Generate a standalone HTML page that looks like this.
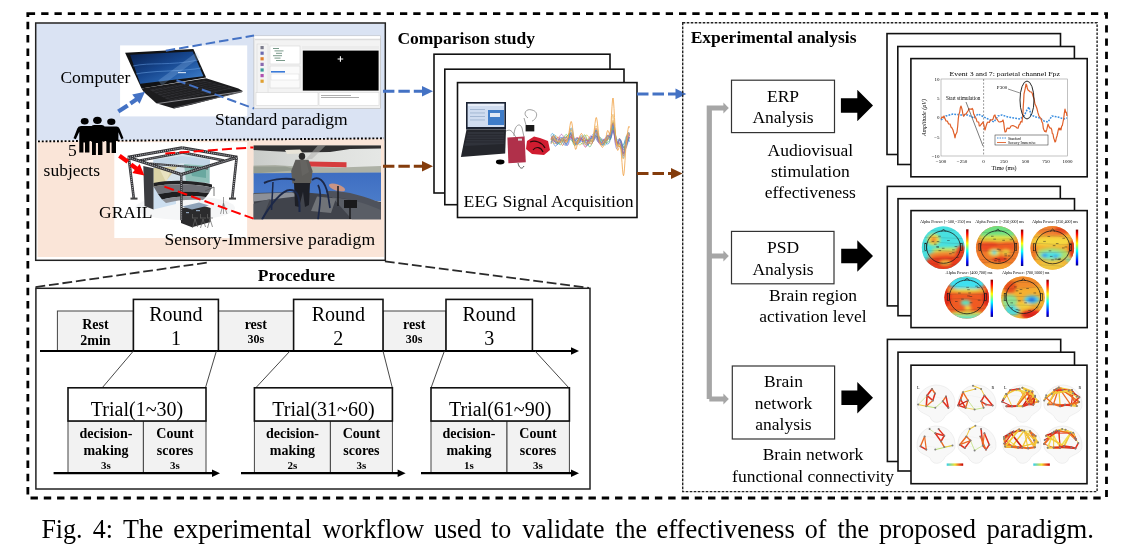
<!DOCTYPE html>
<html><head><meta charset="utf-8">
<style>
html,body{margin:0;padding:0;background:#fff;width:1132px;height:550px;overflow:hidden}
svg{position:absolute;left:0;top:0;will-change:transform}
svg.capsvg{will-change:auto}
text{font-family:"Liberation Serif",serif;fill:#000}
.b{font-weight:bold}
</style></head><body>
<svg width="1132" height="550" viewBox="0 0 1132 550">
<!-- ===== TOP LEFT BOX ===== -->
<rect x="36" y="23.5" width="349" height="117" fill="#DAE3F3"/>
<polygon points="37.6,141.5 384,138.5 384,257 37.6,257" fill="#FAE5D8"/>
<rect x="35.7" y="23" width="349.6" height="237.3" fill="none" stroke="#222" stroke-width="1.5"/>
<rect x="120.1" y="45.4" width="127.1" height="71" fill="#fff"/>
<polygon points="141.5,88.4 143.6,91.8 156.3,103.2 173.8,108.6 191.3,104.8 243.1,91.3 238.4,88.4 206.1,78.3" fill="#1c1c1e"/>
<polygon points="149.6,89.8 204.0,80.6 233.0,88.6 171.0,101.5" fill="#2e2e32"/>
<line x1="153.2" y1="91.8" x2="208.8" y2="81.9" stroke="#1c1c1e" stroke-width="0.8"/>
<line x1="156.7" y1="93.7" x2="213.7" y2="83.3" stroke="#1c1c1e" stroke-width="0.8"/>
<line x1="160.3" y1="95.7" x2="218.5" y2="84.6" stroke="#1c1c1e" stroke-width="0.8"/>
<line x1="163.9" y1="97.6" x2="223.3" y2="85.9" stroke="#1c1c1e" stroke-width="0.8"/>
<line x1="167.4" y1="99.5" x2="228.2" y2="87.3" stroke="#1c1c1e" stroke-width="0.8"/>
<line x1="153.5" y1="89.1" x2="175.4" y2="100.6" stroke="#1c1c1e" stroke-width="0.7"/>
<line x1="157.4" y1="88.5" x2="179.9" y2="99.7" stroke="#1c1c1e" stroke-width="0.7"/>
<line x1="161.3" y1="87.8" x2="184.3" y2="98.7" stroke="#1c1c1e" stroke-width="0.7"/>
<line x1="165.1" y1="87.2" x2="188.7" y2="97.8" stroke="#1c1c1e" stroke-width="0.7"/>
<line x1="169.0" y1="86.5" x2="193.1" y2="96.9" stroke="#1c1c1e" stroke-width="0.7"/>
<line x1="172.9" y1="85.9" x2="197.6" y2="96.0" stroke="#1c1c1e" stroke-width="0.7"/>
<line x1="176.8" y1="85.2" x2="202.0" y2="95.0" stroke="#1c1c1e" stroke-width="0.7"/>
<line x1="180.7" y1="84.5" x2="206.4" y2="94.1" stroke="#1c1c1e" stroke-width="0.7"/>
<line x1="184.6" y1="83.9" x2="210.9" y2="93.2" stroke="#1c1c1e" stroke-width="0.7"/>
<line x1="188.5" y1="83.2" x2="215.3" y2="92.3" stroke="#1c1c1e" stroke-width="0.7"/>
<line x1="192.3" y1="82.6" x2="219.7" y2="91.4" stroke="#1c1c1e" stroke-width="0.7"/>
<line x1="196.2" y1="81.9" x2="224.1" y2="90.4" stroke="#1c1c1e" stroke-width="0.7"/>
<line x1="200.1" y1="81.3" x2="228.6" y2="89.5" stroke="#1c1c1e" stroke-width="0.7"/>
<line x1="157" y1="103.6" x2="241.5" y2="91.6" stroke="#9a9a9e" stroke-width="0.9"/>
<line x1="174" y1="108" x2="242" y2="91.8" stroke="#5a5a5e" stroke-width="1"/>
<polygon points="125.1,52.7 193.4,49.1 206.1,77.6 141.5,88.4" fill="#111214"/>
<defs><linearGradient id="lscr" x1="0" y1="0" x2="1" y2="1"><stop offset="0" stop-color="#081e4c"/><stop offset="0.45" stop-color="#16468e"/><stop offset="0.75" stop-color="#2c68b4"/><stop offset="1" stop-color="#4888d0"/></linearGradient></defs>
<polygon points="130.1,54.8 192.7,51.4 203.4,76.3 140.2,83.7" fill="url(#lscr)"/>
<path d="M133,66 C150,62 170,66 198,60" stroke="#5a90d6" stroke-width="1" fill="none" opacity="0.6"/>
<path d="M136,74 C155,70 180,72 201,68" stroke="#6aa0e0" stroke-width="1.2" fill="none" opacity="0.55"/>
<path d="M160,83 L198,55" stroke="#9cc4ef" stroke-width="6" fill="none" opacity="0.25"/>
<rect x="178" y="72" width="8" height="1.2" fill="#c8daf0"/>
<rect x="253.9" y="35.9" width="126.7" height="72.6" fill="#f3f3f3" stroke="#b8b8b8" stroke-width="0.6"/>
<rect x="254.2" y="36.2" width="126" height="2" fill="#ffffff"/>
<rect x="255" y="39" width="125" height="1.2" fill="#dcdcdc"/>
<rect x="260.5" y="46.0" width="3.2" height="3.2" fill="#7a7a8a"/>
<rect x="260.5" y="51.6" width="3.2" height="3.2" fill="#6a6ab0"/>
<rect x="260.5" y="57.2" width="3.2" height="3.2" fill="#e08030"/>
<rect x="260.5" y="62.8" width="3.2" height="3.2" fill="#8a6ab0"/>
<rect x="260.5" y="68.4" width="3.2" height="3.2" fill="#3a9a9a"/>
<rect x="260.5" y="74.0" width="3.2" height="3.2" fill="#b050b0"/>
<rect x="260.5" y="79.6" width="3.2" height="3.2" fill="#e0a030"/>
<rect x="257" y="44" width="11" height="58" fill="none" stroke="#d4d4d4" stroke-width="0.5"/>
<rect x="270" y="46" width="30" height="18" fill="#fff" stroke="#cfcfcf" stroke-width="0.5"/>
<rect x="273.0" y="48.0" width="6" height="1" fill="#7a9a8a"/>
<rect x="274.5" y="50.4" width="9" height="1" fill="#7a9a8a"/>
<rect x="276.0" y="52.8" width="6" height="1" fill="#7a9a8a"/>
<rect x="273.0" y="55.2" width="9" height="1" fill="#7a9a8a"/>
<rect x="274.5" y="57.6" width="6" height="1" fill="#7a9a8a"/>
<rect x="276.0" y="60.0" width="9" height="1" fill="#7a9a8a"/>
<rect x="270" y="66" width="30" height="22" fill="#fafafa" stroke="#cfcfcf" stroke-width="0.5"/>
<rect x="271" y="71" width="14" height="1.6" fill="#3a7ad8"/>
<rect x="271" y="74" width="28" height="6" fill="#fff" stroke="#d0d0d0" stroke-width="0.4"/>
<rect x="302.8" y="50.6" width="75.8" height="40" fill="#000"/>
<rect x="302" y="46" width="77" height="3" fill="#ececec"/>
<path d="M340.4,56.2 V61.8 M337.6,59 H343.2" stroke="#fff" stroke-width="1.1"/>
<rect x="256" y="92.5" width="62" height="13" fill="#fff" stroke="#cfcfcf" stroke-width="0.5"/>
<rect x="319" y="92.5" width="60" height="13" fill="#fff" stroke="#cfcfcf" stroke-width="0.5"/>
<rect x="321" y="95" width="30" height="0.8" fill="#9a9a9a"/><rect x="321" y="97" width="38" height="0.8" fill="#9a9a9a"/>
<rect x="114.3" y="142.2" width="132.8" height="95.8" fill="#fff"/>
<ellipse cx="185" cy="208" rx="50" ry="12" fill="#f5f6f7"/>
<polygon points="153.4,157.0 182.0,153.0 210.0,158.0 210.0,184.0 182.0,181.0 153.4,187.0" fill="#d4e2ea"/>
<polygon points="153.4,160.0 182.0,156.0 210.0,160.0 210.0,167.0 182.0,163.0 153.4,168.0" fill="#c2d6e6"/>
<polygon points="153.4,168.0 178.0,166.0 162.0,186.0 153.4,187.0" fill="#d9d2a6"/>
<polygon points="160.0,170.0 172.0,168.0 166.0,182.0" fill="#e8e2c0"/>
<polygon points="184.0,164.0 209.5,166.0 209.5,183.0 186.0,181.0" fill="#8fbfb8"/>
<polygon points="190.0,168.0 206.0,170.0 206.0,178.0 192.0,176.0" fill="#6aa8a0"/>
<polygon points="153.4,187.0 176.0,186.0 176.0,204.0 153.4,209.6" fill="#cddff0"/>
<path d="M153.5,183 C170,179.5 195,180.5 212,184.5 L212,187.5 C195,184 170,183 153.5,186.5 Z" fill="#222224"/>
<path d="M153.5,186.5 C170,183 195,184 212,187.5 L209,193 C195,191 175,190.5 158,194 Z" fill="#6e7076"/>
<path d="M158,194 C175,190.5 195,191 209,193 L206,197 C192,195.5 176,196 162,199.5 Z" fill="#1e1e20"/>
<path d="M162,199.5 C176,196 192,195.5 206,197 L203,200 C190,199 176,200 166,203 Z" fill="#8a8c92"/>
<path d="M205,191 L214,187 L214,196" stroke="#555" stroke-width="0.8" fill="none"/>
<polygon points="143.3,165.9 153.5,168.2 153.5,209.6 144.5,206.0" fill="#3b3c40"/>
<polygon points="181.0,208.5 199.0,204.5 210.6,208.0 210.6,222.0 192.0,227.2 181.0,223.0" fill="#2b2b2d"/>
<polygon points="182.0,206.5 199.0,202.5 209.0,205.5 192.0,209.5" fill="#8ea2b8"/>
<rect x="186" y="212" width="3" height="1.2" fill="#8ea2b8"/><rect x="196" y="210" width="4" height="1.2" fill="#8ea2b8"/>
<path d="M195,219 l-2.5,9 M195,219 l2.5,8 M192,218 h6 M192.5,214 v4" stroke="#666" stroke-width="0.7" fill="none"/>
<path d="M203,219 l-2.5,9 M203,219 l2.5,8 M200,218 h6 M200.5,214 v4" stroke="#666" stroke-width="0.7" fill="none"/>
<path d="M210,219 l-2.5,9 M210,219 l2.5,8 M207,218 h6 M207.5,214 v4" stroke="#666" stroke-width="0.7" fill="none"/>
<path d="M223.5,197 v9 M223.5,203 l-3,11 M223.5,203 l3.5,11 M223.5,203 v11" stroke="#777" stroke-width="0.7" fill="none"/>
<line x1="127.8" y1="157.3" x2="182.2" y2="147.8" stroke="#333336" stroke-width="3.0"/><line x1="127.8" y1="157.3" x2="182.2" y2="147.8" stroke="#b4b6bc" stroke-width="1.20" stroke-dasharray="1 1.1"/>
<line x1="182.2" y1="147.8" x2="237.4" y2="157.3" stroke="#333336" stroke-width="3.0"/><line x1="182.2" y1="147.8" x2="237.4" y2="157.3" stroke="#b4b6bc" stroke-width="1.20" stroke-dasharray="1 1.1"/>
<line x1="140" y1="160.5" x2="182.5" y2="152.5" stroke="#333336" stroke-width="2.4"/><line x1="140" y1="160.5" x2="182.5" y2="152.5" stroke="#b4b6bc" stroke-width="0.96" stroke-dasharray="1 1.1"/>
<line x1="182.5" y1="152.5" x2="224" y2="160.5" stroke="#333336" stroke-width="2.4"/><line x1="182.5" y1="152.5" x2="224" y2="160.5" stroke="#b4b6bc" stroke-width="0.96" stroke-dasharray="1 1.1"/>
<line x1="150" y1="163.5" x2="208" y2="168.5" stroke="#333336" stroke-width="2.2"/><line x1="150" y1="163.5" x2="208" y2="168.5" stroke="#b4b6bc" stroke-width="0.88" stroke-dasharray="1 1.1"/>
<line x1="127.8" y1="157.3" x2="181.3" y2="174.5" stroke="#333336" stroke-width="3.0"/><line x1="127.8" y1="157.3" x2="181.3" y2="174.5" stroke="#b4b6bc" stroke-width="1.20" stroke-dasharray="1 1.1"/>
<line x1="181.3" y1="174.5" x2="237.4" y2="157.3" stroke="#333336" stroke-width="3.0"/><line x1="181.3" y1="174.5" x2="237.4" y2="157.3" stroke="#b4b6bc" stroke-width="1.20" stroke-dasharray="1 1.1"/>
<line x1="128.8" y1="158" x2="133.8" y2="198.7" stroke="#333336" stroke-width="2.6"/><line x1="128.8" y1="158" x2="133.8" y2="198.7" stroke="#b4b6bc" stroke-width="1.04" stroke-dasharray="1 1.1"/>
<line x1="236.6" y1="158" x2="232.2" y2="198.7" stroke="#333336" stroke-width="2.6"/><line x1="236.6" y1="158" x2="232.2" y2="198.7" stroke="#b4b6bc" stroke-width="1.04" stroke-dasharray="1 1.1"/>
<line x1="181.3" y1="174.5" x2="181.5" y2="220.3" stroke="#333336" stroke-width="2.4"/><line x1="181.3" y1="174.5" x2="181.5" y2="220.3" stroke="#b4b6bc" stroke-width="0.96" stroke-dasharray="1 1.1"/>
<rect x="130.5" y="197.6" width="7" height="2" fill="#444"/><rect x="229" y="197.6" width="7" height="2" fill="#444"/>
<defs><clipPath id="vrc"><rect x="253.4" y="145.3" width="127.6" height="74.1"/></clipPath><linearGradient id="vrsky" x1="0" y1="0" x2="1" y2="0"><stop offset="0" stop-color="#c9ccc9"/><stop offset="0.5" stop-color="#dddfdc"/><stop offset="1" stop-color="#e5e7e5"/></linearGradient><linearGradient id="vrsea" x1="0" y1="0" x2="0" y2="1"><stop offset="0" stop-color="#3e6ec2"/><stop offset="1" stop-color="#4b7cc9"/></linearGradient></defs>
<g clip-path="url(#vrc)">
<rect x="253.4" y="145.3" width="127.6" height="74.1" fill="url(#vrsky)"/>
<polygon points="253.4,145.3 381.0,145.3 381.0,148.5 350.0,149.0 330.0,152.0 300.0,152.5 270.0,151.0 253.4,150.0" fill="#303031"/>
<polygon points="285.0,150.0 300.0,149.5 303.0,153.5 287.0,154.0" fill="#e8e4d8"/>
<polygon points="318.0,145.3 326.0,145.3 312.0,159.0 306.0,159.0" fill="#b0b0ae" opacity="0.5"/>
<polygon points="253.4,165.5 275.0,165.0 300.0,166.8 340.0,167.5 381.0,166.0 381.0,172.8 253.4,173.5" fill="#adb1a6"/>
<polygon points="253.4,166.5 285.0,166.5 300.0,170.0 253.4,173.5" fill="#959c90"/>
<polygon points="253.4,173.2 381.0,172.6 381.0,201.5 330.0,196.0 253.4,194.5" fill="url(#vrsea)"/>
<polygon points="253.4,193.0 300.0,192.0 340.0,195.5 381.0,202.0 381.0,219.4 253.4,219.4" fill="#40434b"/>
<polygon points="253.4,193.8 292.0,192.6 300.0,196.0 253.4,201.5" fill="#8c9098"/>
<polygon points="253.4,204.0 270.0,199.0 262.0,219.4 253.4,219.4" fill="#50545c"/>
<polygon points="332.0,197.0 381.0,204.5 381.0,219.4 352.0,219.4" fill="#5a5e66"/>
<polygon points="317.0,196.5 336.0,198.5 331.0,213.0 311.0,211.0" fill="#707378"/>
<ellipse cx="337" cy="187.5" rx="8.5" ry="3.2" transform="rotate(18 337 187.5)" fill="#c99484"/>
<path d="M326,191 C345,190 365,196 381,203 L381,210 C365,203 345,197 328,197 Z" fill="#4e525c"/>
<polygon points="308.0,161.4 346.5,162.2 346.5,167.2 308.0,166.4" fill="#d63c3e"/>
<ellipse cx="302" cy="156.3" rx="3.2" ry="3.6" fill="#2a2a2a"/>
<polygon points="295.5,159.8 308.5,159.8 312.6,171.0 311.0,183.5 292.5,183.5 291.2,171.0" fill="#5e5d5a"/>
<polygon points="300.0,160.0 306.0,160.0 309.0,172.0 302.0,176.0" fill="#6a6966" opacity="0.6"/>
<polygon points="294.0,183.0 310.0,183.0 309.0,205.0 305.0,207.0 303.0,192.0 299.0,207.0 295.0,206.0" fill="#1d1f26"/>
<path d="M264,183 C275,178 290,178 295,180 M299.5,212 C300,195 297,190 290,190 C282,190 270,205 262,219.4" stroke="#1c2848" stroke-width="2" fill="none"/>
<path d="M312,180 C318,175 325,180 328,195 L330,208 M318,185 C322,192 320,205 318,219.4" stroke="#1c2848" stroke-width="1.7" fill="none"/>
<path d="M273,182 L271.5,210" stroke="#1c2848" stroke-width="1.5"/>
<rect x="344" y="200" width="13" height="8" fill="#1a1a1c"/><path d="M338,186 v20 M350,208 v11" stroke="#1a1a1c" stroke-width="1.5"/>
</g>
<line x1="38" y1="141.4" x2="384" y2="138.3" stroke="#000" stroke-width="1.9" stroke-dasharray="1.9 1.9"/>
<ellipse cx="84.7" cy="121.2" rx="3.9" ry="3.2" fill="#000"/>
<ellipse cx="97.4" cy="120.3" rx="4.3" ry="3.6" fill="#000"/>
<ellipse cx="111.3" cy="121.8" rx="4.1" ry="3.3" fill="#000"/>
<path d="M77.3,128.5 Q78,126 81,126 H92.5 V141 H89.4 V152.5 H85 V142.5 H83.4 V152.5 H79.3 V141 L79.3,131.8 L75.8,139.3 L73.5,138.3 Z" fill="#000"/>
<path d="M91.2,127 Q91.6,125 94,125 H102 Q104.6,125 104.8,127.5 V141 H102.4 V154.9 H98 V143 H95.9 V154.9 H92 V141 H91.2 Z" fill="#000"/>
<path d="M103.6,126.5 H116.5 Q118.6,126.6 119.6,128.8 L123.5,138.3 L121.3,139.3 L118.4,132.3 V141 H116 V153 H111.6 V142.5 H109.8 V153 H106.4 V141 H103.6 Z" fill="#000"/>
<line x1="165.8" y1="50.7" x2="254" y2="35.6" stroke="#4472C4" stroke-width="2" stroke-dasharray="9.5 4"/>
<line x1="176.5" y1="80.3" x2="254" y2="108.5" stroke="#4472C4" stroke-width="2" stroke-dasharray="9.5 4"/>
<line x1="165.3" y1="153.4" x2="253.5" y2="147.4" stroke="#FF0000" stroke-width="2" stroke-dasharray="10 4.2"/>
<line x1="164.4" y1="186.6" x2="253.5" y2="218.6" stroke="#FF0000" stroke-width="2" stroke-dasharray="10 4.2"/>
<line x1="118.3" y1="111.6" x2="127.7" y2="105.4" stroke="#4472C4" stroke-width="4.2"/>
<line x1="130.4" y1="103.4" x2="137" y2="99" stroke="#4472C4" stroke-width="4.2"/>
<polygon points="145.0,91.7 139.6,103.8 132.2,94.6" fill="#4472C4"/>
<line x1="119.4" y1="155.8" x2="127.8" y2="161.8" stroke="#FF0000" stroke-width="4.4"/>
<line x1="131" y1="164.6" x2="137" y2="169" stroke="#FF0000" stroke-width="4.4"/>
<polygon points="144.4,175.5 132.3,173.0 139.7,164.0" fill="#FF0000"/>
<!-- texts -->
<text x="60.4" y="83.4" font-size="17.5">Computer</text>
<text x="68" y="155.5" font-size="17.5">5</text>
<text x="43.6" y="176" font-size="17.5">subjects</text>
<text x="99" y="218" font-size="17.5">GRAIL</text>
<text x="215" y="124.7" font-size="17.5">Standard paradigm</text>
<text x="164.5" y="244.6" font-size="17.5" textLength="210.5">Sensory-Immersive paradigm</text>

<!-- ===== OUTER DASHED ===== -->
<g stroke="#000" stroke-width="2.8" fill="none">
<path d="M26.4,13.6 H35.1 M27.85,12.2 V16.9 M1104.2,13.6 H1108 M1106.5,12.2 V18.8"/>
<line x1="41.2" y1="13.6" x2="1099" y2="13.6" stroke-dasharray="7.3 5.988"/>
<line x1="27.85" y1="21.8" x2="27.85" y2="494.6" stroke-dasharray="7.5 5.794"/>
<line x1="1106.5" y1="25.3" x2="1106.5" y2="497" stroke-dasharray="7.2 6.08"/>
<line x1="30.5" y1="498" x2="1101.2" y2="498" stroke-dasharray="7.4 5.885"/>
</g>

<!-- ===== COMPARISON ===== -->
<text class="b" x="397.4" y="43.5" font-size="17.5">Comparison study</text>
<rect x="434" y="54.2" width="176" height="138.8" fill="#fff" stroke="#111" stroke-width="1.6"/>
<rect x="444.8" y="69.2" width="179.2" height="135.5" fill="#fff" stroke="#111" stroke-width="1.6"/>
<rect x="457.5" y="82.6" width="179.5" height="134.9" fill="#fff" stroke="#111" stroke-width="1.6"/>
<polygon points="466.0,101.9 506.0,101.9 506.0,129.5 466.0,129.5" fill="#1a2232"/>
<rect x="467.6" y="103.6" width="36.8" height="23.4" fill="#cfdcf0"/>
<rect x="468" y="104" width="36" height="2" fill="#e8eef8"/>
<rect x="488" y="110" width="16" height="15" fill="#3e7cc8"/>
<rect x="490" y="113" width="10" height="4" fill="#dfe8f5"/>
<rect x="470" y="109.0" width="15" height="0.9" fill="#9fb3d0"/>
<rect x="470" y="112.5" width="15" height="0.9" fill="#9fb3d0"/>
<rect x="470" y="116.0" width="15" height="0.9" fill="#9fb3d0"/>
<rect x="470" y="119.5" width="15" height="0.9" fill="#9fb3d0"/>
<polygon points="466.5,129.5 506.0,129.5 505.2,153.6 460.9,157.0" fill="#24262c"/>
<polygon points="468.0,132.0 504.0,132.0 503.8,144.0 464.5,146.0" fill="#30333b"/>
<line x1="467.3" y1="134.5" x2="504" y2="134.5" stroke="#22242a" stroke-width="0.6"/>
<line x1="466.6" y1="137.0" x2="504" y2="137.0" stroke="#22242a" stroke-width="0.6"/>
<line x1="465.9" y1="139.5" x2="504" y2="139.5" stroke="#22242a" stroke-width="0.6"/>
<line x1="465.2" y1="142.0" x2="504" y2="142.0" stroke="#22242a" stroke-width="0.6"/>
<ellipse cx="500.2" cy="162" rx="4.3" ry="2.4" fill="#000"/>
<path d="M506,131 C512,128 513,134 516,137 M514,136 C514,125 520,122 522,128 L524,137 M528,118 C522,114 526,108 532,110 C540,112 536,120 532,121 M526,125 L524,118" stroke="#888" stroke-width="0.8" fill="none"/>
<rect x="525.6" y="125" width="8.7" height="6.4" fill="#1a1a1a"/>
<path d="M518,163 C519,168 522,170 524,166" stroke="#333" stroke-width="0.8" fill="none"/>
<polygon points="507.4,137.6 524.6,136.6 525.8,162.2 508.4,163.2" fill="#b0304a"/>
<rect x="518" y="138.6" width="4" height="2" fill="#ddd"/>
<polygon points="527.0,141.0 534.0,136.5 540.0,138.0 548.0,141.0 550.0,150.0 544.0,155.0 532.0,154.0 526.0,149.0" fill="#d01c30"/>
<path d="M530,142 C535,140 542,142 545,148 M533,150 C536,146 541,147 543,152" stroke="#2a0a0a" stroke-width="1.2" fill="none"/>
<polyline points="551.0,135.6 551.5,136.7 552.0,138.1 552.5,139.7 553.0,141.3 553.5,142.9 554.0,144.3 554.5,145.3 555.0,145.9 555.5,146.2 556.0,146.0 556.5,145.4 557.0,144.6 557.5,143.5 558.0,142.3 558.5,141.0 559.0,139.8 559.5,138.7 560.0,137.9 560.5,137.4 561.0,137.2 561.5,137.4 562.0,137.9 562.5,138.6 563.0,139.5 563.5,140.5 564.0,141.5 564.5,142.4 565.0,143.2 565.5,143.7 566.0,143.9 566.5,143.8 567.0,143.3 567.5,142.5 568.0,141.3 568.5,139.8 569.0,138.2 569.5,136.4 570.0,134.8 570.5,133.6 571.0,132.8 571.5,132.7 572.0,133.2 572.5,134.1 573.0,135.5 573.5,137.0 574.0,138.6 574.5,140.2 575.0,141.6 575.5,142.8 576.0,143.7 576.5,144.2 577.0,144.4 577.5,144.4 578.0,144.1 578.5,143.6 579.0,143.0 579.5,142.2 580.0,141.3 580.5,140.6 581.0,140.0 581.5,139.6 582.0,139.5 582.5,139.6 583.0,139.9 583.5,140.3 584.0,140.7 584.5,141.2 585.0,141.6 585.5,142.0 586.0,142.3 586.5,142.5 587.0,142.5 587.5,142.2 588.0,141.8 588.5,141.1 589.0,140.3 589.5,139.4 590.0,138.5 590.5,137.7 591.0,137.1 591.5,136.7 592.0,136.5 592.5,136.5 593.0,136.6 593.5,136.7 594.0,136.9 594.5,137.1 595.0,137.4 595.5,137.8 596.0,138.5 596.5,139.3 597.0,140.3 597.5,141.2 598.0,141.9 598.5,142.2 599.0,142.1 599.5,141.8 600.0,141.3 600.5,140.8 601.0,140.3 601.5,139.9 602.0,139.5 602.5,139.3 603.0,139.2 603.5,139.4 604.0,139.8 604.5,140.5 605.0,141.3 605.5,142.1 606.0,142.9 606.5,143.5 607.0,143.9 607.5,144.0 608.0,143.9 608.5,143.6 609.0,143.0 609.5,142.1 610.0,140.6 610.5,138.6 611.0,136.1 611.5,133.3 612.0,130.5 612.5,128.3 613.0,127.1 613.5,127.2 614.0,128.4 614.5,130.4 615.0,132.9 615.5,135.4 616.0,138.0 616.5,140.4 617.0,142.5 617.5,144.3 618.0,145.4 618.5,146.1 619.0,146.4 619.5,146.4 620.0,146.3 620.5,146.1 621.0,145.9 621.5,145.7 622.0,145.6 622.5,145.5 623.0,145.1 623.5,144.4 624.0,143.4 624.5,142.2 625.0,141.0 625.5,140.1 626.0,139.6 626.5,139.5 627.0,139.6 627.5,139.8 628.0,140.1 628.5,140.5 629.0,141.0 629.5,141.7" fill="none" stroke="#3a78d0" stroke-width="0.7" opacity="0.9"/>
<polyline points="551.0,139.2 551.5,138.9 552.0,138.7 552.5,138.8 553.0,139.1 553.5,139.6 554.0,140.2 554.5,140.9 555.0,141.5 555.5,142.0 556.0,142.4 556.5,142.7 557.0,142.9 557.5,142.9 558.0,142.7 558.5,142.4 559.0,142.1 559.5,141.7 560.0,141.3 560.5,141.0 561.0,140.7 561.5,140.5 562.0,140.4 562.5,140.3 563.0,140.2 563.5,140.0 564.0,139.6 564.5,139.2 565.0,138.6 565.5,137.9 566.0,137.2 566.5,136.5 567.0,135.8 567.5,135.3 568.0,134.8 568.5,134.4 569.0,133.9 569.5,133.5 570.0,133.4 570.5,133.8 571.0,134.8 571.5,136.6 572.0,138.7 572.5,140.9 573.0,142.9 573.5,144.4 574.0,145.2 574.5,145.5 575.0,145.2 575.5,144.4 576.0,143.3 576.5,142.1 577.0,141.1 577.5,140.3 578.0,140.0 578.5,139.9 579.0,139.9 579.5,139.8 580.0,139.6 580.5,139.3 581.0,138.9 581.5,138.4 582.0,137.9 582.5,137.3 583.0,136.6 583.5,135.9 584.0,135.2 584.5,134.9 585.0,135.0 585.5,135.7 586.0,136.8 586.5,138.4 587.0,140.3 587.5,142.2 588.0,143.9 588.5,145.4 589.0,146.3 589.5,146.8 590.0,146.8 590.5,146.4 591.0,145.5 591.5,144.5 592.0,143.2 592.5,141.7 593.0,140.0 593.5,138.0 594.0,135.8 594.5,133.6 595.0,131.6 595.5,130.3 596.0,129.9 596.5,130.6 597.0,132.1 597.5,133.9 598.0,135.7 598.5,137.1 599.0,138.0 599.5,138.5 600.0,138.9 600.5,139.4 601.0,139.8 601.5,140.3 602.0,140.6 602.5,140.8 603.0,140.8 603.5,140.7 604.0,140.7 604.5,140.7 605.0,140.7 605.5,140.5 606.0,140.2 606.5,139.7 607.0,139.1 607.5,138.7 608.0,138.6 608.5,138.9 609.0,139.4 609.5,139.8 610.0,139.6 610.5,138.4 611.0,135.7 611.5,132.0 612.0,127.8 612.5,124.2 613.0,122.3 613.5,122.7 614.0,124.9 614.5,128.2 615.0,131.7 615.5,135.0 616.0,137.8 616.5,140.2 617.0,142.2 617.5,143.5 618.0,144.1 618.5,144.2 619.0,144.1 619.5,144.1 620.0,144.4 620.5,145.3 621.0,146.6 621.5,148.4 622.0,150.4 622.5,152.2 623.0,153.3 623.5,153.2 624.0,151.9 624.5,149.7 625.0,147.2 625.5,144.9 626.0,143.1 626.5,141.8 627.0,140.8 627.5,139.8 628.0,138.6 628.5,137.6 629.0,137.0 629.5,137.1" fill="none" stroke="#50b050" stroke-width="0.7" opacity="0.9"/>
<polyline points="551.0,138.5 551.5,138.0 552.0,137.7 552.5,137.6 553.0,137.9 553.5,138.4 554.0,139.2 554.5,140.2 555.0,141.3 555.5,142.3 556.0,143.3 556.5,143.9 557.0,144.3 557.5,144.3 558.0,144.0 558.5,143.3 559.0,142.4 559.5,141.3 560.0,140.3 560.5,139.4 561.0,138.7 561.5,138.3 562.0,138.2 562.5,138.3 563.0,138.7 563.5,139.2 564.0,139.7 564.5,140.1 565.0,140.4 565.5,140.5 566.0,140.3 566.5,140.0 567.0,139.6 567.5,139.1 568.0,138.6 568.5,138.1 569.0,137.5 569.5,137.1 570.0,136.9 570.5,137.1 571.0,137.6 571.5,138.6 572.0,139.8 572.5,140.9 573.0,141.8 573.5,142.4 574.0,142.5 574.5,142.2 575.0,141.7 575.5,140.8 576.0,139.9 576.5,139.0 577.0,138.4 577.5,138.0 578.0,138.0 578.5,138.3 579.0,138.7 579.5,139.1 580.0,139.4 580.5,139.7 581.0,139.9 581.5,140.0 582.0,140.2 582.5,140.2 583.0,140.3 583.5,140.3 584.0,140.4 584.5,140.6 585.0,141.0 585.5,141.6 586.0,142.4 586.5,143.1 587.0,143.8 587.5,144.2 588.0,144.3 588.5,144.0 589.0,143.3 589.5,142.3 590.0,141.1 590.5,139.8 591.0,138.6 591.5,137.6 592.0,136.9 592.5,136.3 593.0,136.0 593.5,135.8 594.0,135.5 594.5,135.3 595.0,135.1 595.5,135.1 596.0,135.4 596.5,136.1 597.0,137.0 597.5,138.0 598.0,138.9 598.5,139.6 599.0,140.1 599.5,140.5 600.0,141.0 600.5,141.6 601.0,142.4 601.5,143.2 602.0,143.8 602.5,144.2 603.0,144.2 603.5,143.9 604.0,143.4 604.5,142.6 605.0,141.6 605.5,140.4 606.0,139.1 606.5,137.8 607.0,136.6 607.5,135.9 608.0,135.6 608.5,135.9 609.0,136.5 609.5,137.4 610.0,138.0 610.5,138.0 611.0,137.2 611.5,135.7 612.0,133.8 612.5,132.0 613.0,131.1 613.5,131.2 614.0,132.4 614.5,134.2 615.0,136.1 615.5,137.9 616.0,139.6 616.5,141.1 617.0,142.3 617.5,143.2 618.0,143.5 618.5,143.4 619.0,143.1 619.5,142.8 620.0,142.5 620.5,142.5 621.0,142.9 621.5,143.6 622.0,144.6 622.5,145.8 623.0,146.8 623.5,147.3 624.0,147.3 624.5,146.9 625.0,146.2 625.5,145.5 626.0,144.8 626.5,144.1 627.0,143.3 627.5,142.2 628.0,140.7 628.5,139.3 629.0,138.1 629.5,137.4" fill="none" stroke="#9050c0" stroke-width="0.7" opacity="0.9"/>
<polyline points="551.0,141.4 551.5,141.8 552.0,142.2 552.5,142.6 553.0,142.9 553.5,143.1 554.0,143.3 554.5,143.4 555.0,143.4 555.5,143.4 556.0,143.4 556.5,143.3 557.0,143.2 557.5,143.1 558.0,143.0 558.5,142.8 559.0,142.5 559.5,142.2 560.0,141.8 560.5,141.3 561.0,140.8 561.5,140.2 562.0,139.5 562.5,138.9 563.0,138.3 563.5,137.8 564.0,137.4 564.5,137.1 565.0,136.9 565.5,136.9 566.0,137.1 566.5,137.3 567.0,137.7 567.5,138.0 568.0,138.2 568.5,138.3 569.0,138.1 569.5,137.7 570.0,137.3 570.5,136.9 571.0,136.8 571.5,136.9 572.0,137.4 572.5,138.0 573.0,138.7 573.5,139.4 574.0,140.1 574.5,140.7 575.0,141.3 575.5,141.8 576.0,142.2 576.5,142.5 577.0,142.9 577.5,143.4 578.0,143.9 578.5,144.3 579.0,144.7 579.5,144.8 580.0,144.8 580.5,144.6 581.0,144.2 581.5,143.7 582.0,143.0 582.5,142.2 583.0,141.3 583.5,140.2 584.0,139.0 584.5,137.8 585.0,136.7 585.5,135.9 586.0,135.3 586.5,135.1 587.0,135.1 587.5,135.4 588.0,136.0 588.5,136.7 589.0,137.5 589.5,138.4 590.0,139.3 590.5,140.1 591.0,140.9 591.5,141.6 592.0,142.0 592.5,142.1 593.0,141.8 593.5,141.2 594.0,140.1 594.5,138.8 595.0,137.5 595.5,136.4 596.0,135.8 596.5,135.8 597.0,136.4 597.5,137.3 598.0,138.5 598.5,139.7 599.0,140.8 599.5,141.8 600.0,142.8 600.5,143.7 601.0,144.6 601.5,145.2 602.0,145.4 602.5,145.4 603.0,145.0 603.5,144.3 604.0,143.4 604.5,142.5 605.0,141.5 605.5,140.4 606.0,139.2 606.5,138.1 607.0,137.0 607.5,136.1 608.0,135.5 608.5,135.2 609.0,135.2 609.5,135.3 610.0,135.1 610.5,134.6 611.0,133.6 611.5,132.1 612.0,130.5 612.5,129.4 613.0,129.2 613.5,130.1 614.0,131.9 614.5,134.3 615.0,136.7 615.5,138.9 616.0,140.8 616.5,142.4 617.0,143.6 617.5,144.4 618.0,144.8 618.5,144.9 619.0,144.9 619.5,145.1 620.0,145.4 620.5,146.0 621.0,146.9 621.5,148.0 622.0,149.2 622.5,150.1 623.0,150.5 623.5,150.2 624.0,149.0 624.5,147.1 625.0,144.9 625.5,142.6 626.0,140.6 626.5,138.8 627.0,137.3 627.5,136.1 628.0,135.0 628.5,134.5 629.0,134.5 629.5,135.1" fill="none" stroke="#e0c030" stroke-width="0.7" opacity="0.9"/>
<polyline points="551.0,142.3 551.5,140.3 552.0,138.3 552.5,136.7 553.0,135.4 553.5,134.7 554.0,134.5 554.5,134.8 555.0,135.5 555.5,136.6 556.0,137.9 556.5,139.4 557.0,140.7 557.5,141.9 558.0,142.8 558.5,143.3 559.0,143.5 559.5,143.4 560.0,143.1 560.5,142.6 561.0,142.0 561.5,141.5 562.0,141.1 562.5,140.8 563.0,140.6 563.5,140.6 564.0,140.6 564.5,140.7 565.0,140.7 565.5,140.7 566.0,140.5 566.5,140.2 567.0,139.8 567.5,139.1 568.0,138.4 568.5,137.5 569.0,136.5 569.5,135.6 570.0,135.0 570.5,134.7 571.0,135.0 571.5,135.9 572.0,137.2 572.5,138.8 573.0,140.4 573.5,141.8 574.0,143.0 574.5,143.7 575.0,144.0 575.5,143.8 576.0,143.3 576.5,142.5 577.0,141.6 577.5,140.7 578.0,140.0 578.5,139.4 579.0,139.0 579.5,138.7 580.0,138.6 580.5,138.6 581.0,138.8 581.5,139.1 582.0,139.5 582.5,139.9 583.0,140.2 583.5,140.4 584.0,140.5 584.5,140.5 585.0,140.4 585.5,140.4 586.0,140.5 586.5,140.6 587.0,140.7 587.5,140.9 588.0,141.0 588.5,141.1 589.0,141.1 589.5,141.1 590.0,141.0 590.5,141.0 591.0,141.0 591.5,141.0 592.0,140.9 592.5,140.9 593.0,140.7 593.5,140.3 594.0,139.6 594.5,138.7 595.0,137.8 595.5,137.0 596.0,136.5 596.5,136.3 597.0,136.5 597.5,136.7 598.0,136.9 598.5,137.0 599.0,136.9 599.5,136.9 600.0,137.0 600.5,137.5 601.0,138.2 601.5,139.1 602.0,140.3 602.5,141.4 603.0,142.5 603.5,143.5 604.0,144.4 604.5,145.0 605.0,145.3 605.5,145.1 606.0,144.5 606.5,143.3 607.0,141.9 607.5,140.3 608.0,138.8 608.5,137.5 609.0,136.6 609.5,135.8 610.0,135.1 610.5,134.3 611.0,133.2 611.5,131.9 612.0,130.6 612.5,129.8 613.0,130.0 613.5,131.3 614.0,133.4 614.5,135.8 615.0,138.0 615.5,139.8 616.0,141.2 616.5,142.2 617.0,142.9 617.5,143.3 618.0,143.4 618.5,143.3 619.0,143.3 619.5,143.5 620.0,144.1 620.5,144.9 621.0,145.9 621.5,146.9 622.0,147.8 622.5,148.4 623.0,148.2 623.5,147.2 624.0,145.4 624.5,143.0 625.0,140.5 625.5,138.4 626.0,136.8 626.5,136.0 627.0,135.9 627.5,136.2 628.0,136.9 628.5,138.0 629.0,139.4 629.5,141.2" fill="none" stroke="#30b0c0" stroke-width="0.7" opacity="0.9"/>
<polyline points="551.0,139.8 551.5,138.7 552.0,137.7 552.5,136.8 553.0,136.2 553.5,136.0 554.0,136.2 554.5,136.7 555.0,137.6 555.5,138.6 556.0,139.8 556.5,140.9 557.0,141.9 557.5,142.5 558.0,142.7 558.5,142.6 559.0,142.2 559.5,141.5 560.0,140.8 560.5,140.2 561.0,139.8 561.5,139.7 562.0,139.8 562.5,140.1 563.0,140.5 563.5,141.0 564.0,141.3 564.5,141.4 565.0,141.3 565.5,141.0 566.0,140.5 566.5,140.0 567.0,139.4 567.5,139.0 568.0,138.5 568.5,138.1 569.0,137.7 569.5,137.2 570.0,136.9 570.5,136.7 571.0,136.9 571.5,137.5 572.0,138.2 572.5,138.9 573.0,139.4 573.5,139.5 574.0,139.4 574.5,139.2 575.0,138.8 575.5,138.4 576.0,138.0 576.5,137.8 577.0,137.7 577.5,137.8 578.0,138.0 578.5,138.3 579.0,138.4 579.5,138.4 580.0,138.2 580.5,138.1 581.0,138.3 581.5,138.8 582.0,139.8 582.5,141.0 583.0,142.5 583.5,143.9 584.0,145.2 584.5,146.2 585.0,146.9 585.5,147.1 586.0,146.8 586.5,146.1 587.0,144.9 587.5,143.3 588.0,141.6 588.5,139.8 589.0,138.3 589.5,137.1 590.0,136.3 590.5,136.1 591.0,136.2 591.5,136.6 592.0,137.1 592.5,137.5 593.0,137.4 593.5,136.8 594.0,135.5 594.5,133.9 595.0,132.3 595.5,131.1 596.0,130.8 596.5,131.6 597.0,133.5 597.5,135.9 598.0,138.5 598.5,140.8 599.0,142.6 599.5,143.8 600.0,144.6 600.5,144.8 601.0,144.7 601.5,144.1 602.0,143.2 602.5,142.1 603.0,140.9 603.5,139.9 604.0,139.4 604.5,139.3 605.0,139.5 605.5,139.9 606.0,140.3 606.5,140.4 607.0,140.2 607.5,139.7 608.0,139.3 608.5,138.8 609.0,138.3 609.5,137.7 610.0,136.6 610.5,134.8 611.0,132.3 611.5,129.1 612.0,126.1 612.5,123.9 613.0,123.4 613.5,124.8 614.0,127.7 614.5,131.3 615.0,134.7 615.5,137.5 616.0,139.7 616.5,141.2 617.0,142.3 617.5,142.8 618.0,142.9 618.5,142.8 619.0,142.8 619.5,143.1 620.0,144.0 620.5,145.4 621.0,147.2 621.5,149.3 622.0,151.4 622.5,153.2 623.0,154.1 623.5,153.8 624.0,152.4 624.5,150.0 625.0,147.4 625.5,144.9 626.0,143.0 626.5,141.6 627.0,140.5 627.5,139.3 628.0,138.0 628.5,136.9 629.0,136.2 629.5,136.1" fill="none" stroke="#d03070" stroke-width="0.7" opacity="0.9"/>
<polyline points="551.0,137.7 551.5,137.9 552.0,138.4 552.5,139.2 553.0,140.1 553.5,140.9 554.0,141.4 554.5,141.6 555.0,141.3 555.5,140.7 556.0,139.8 556.5,138.8 557.0,138.0 557.5,137.3 558.0,137.1 558.5,137.2 559.0,137.8 559.5,138.8 560.0,140.1 560.5,141.5 561.0,142.9 561.5,144.1 562.0,144.9 562.5,145.3 563.0,145.2 563.5,144.6 564.0,143.6 564.5,142.4 565.0,141.0 565.5,139.6 566.0,138.3 566.5,137.2 567.0,136.4 567.5,135.9 568.0,135.4 568.5,135.0 569.0,134.5 569.5,134.1 570.0,133.7 570.5,133.6 571.0,134.1 571.5,135.2 572.0,136.8 572.5,138.6 573.0,140.4 573.5,142.0 574.0,143.3 574.5,144.2 575.0,144.6 575.5,144.5 576.0,143.9 576.5,143.0 577.0,141.9 577.5,140.7 578.0,139.7 578.5,138.9 579.0,138.1 579.5,137.6 580.0,137.3 580.5,137.2 581.0,137.5 581.5,138.2 582.0,139.0 582.5,139.9 583.0,140.6 583.5,141.0 584.0,141.1 584.5,141.0 585.0,140.7 585.5,140.3 586.0,140.0 586.5,139.9 587.0,139.9 587.5,140.2 588.0,140.6 588.5,141.2 589.0,141.9 589.5,142.7 590.0,143.4 590.5,143.9 591.0,144.2 591.5,144.1 592.0,143.6 592.5,142.5 593.0,140.8 593.5,138.6 594.0,136.0 594.5,133.2 595.0,130.7 595.5,128.9 596.0,128.2 596.5,128.8 597.0,130.5 597.5,132.9 598.0,135.5 598.5,137.9 599.0,139.8 599.5,141.3 600.0,142.4 600.5,143.2 601.0,143.7 601.5,143.9 602.0,143.8 602.5,143.5 603.0,143.0 603.5,142.6 604.0,142.4 604.5,142.3 605.0,142.3 605.5,142.1 606.0,141.7 606.5,141.0 607.0,139.9 607.5,138.6 608.0,137.3 608.5,136.2 609.0,135.2 609.5,134.3 610.0,133.2 610.5,131.7 611.0,129.8 611.5,127.6 612.0,125.7 612.5,124.8 613.0,125.7 613.5,128.3 614.0,132.3 614.5,136.7 615.0,140.5 615.5,143.3 616.0,144.9 616.5,145.4 617.0,145.1 617.5,143.9 618.0,142.2 618.5,140.4 619.0,139.0 619.5,138.4 620.0,139.0 620.5,140.7 621.0,143.4 621.5,146.8 622.0,150.4 622.5,153.5 623.0,155.6 623.5,156.0 624.0,154.6 624.5,151.7 625.0,147.9 625.5,143.9 626.0,140.3 626.5,137.4 627.0,135.1 627.5,133.6 628.0,132.7 628.5,132.8 629.0,133.9 629.5,136.1" fill="none" stroke="#e05a30" stroke-width="0.7" opacity="0.9"/>
<polyline points="551.0,143.7 551.5,142.4 552.0,141.0 552.5,139.6 553.0,138.5 553.5,137.7 554.0,137.3 554.5,137.4 555.0,137.8 555.5,138.6 556.0,139.6 556.5,140.6 557.0,141.6 557.5,142.4 558.0,142.9 558.5,143.0 559.0,142.7 559.5,142.1 560.0,141.4 560.5,140.5 561.0,139.6 561.5,138.9 562.0,138.3 562.5,137.9 563.0,137.6 563.5,137.5 564.0,137.5 564.5,137.5 565.0,137.5 565.5,137.6 566.0,137.7 566.5,138.0 567.0,138.3 567.5,138.7 568.0,139.1 568.5,139.3 569.0,139.4 569.5,139.2 570.0,139.0 570.5,138.7 571.0,138.7 571.5,138.9 572.0,139.2 572.5,139.6 573.0,139.8 573.5,139.9 574.0,139.8 574.5,139.8 575.0,139.8 575.5,139.9 576.0,140.2 576.5,140.7 577.0,141.3 577.5,142.0 578.0,142.7 578.5,143.2 579.0,143.2 579.5,142.7 580.0,141.8 580.5,140.5 581.0,139.1 581.5,137.8 582.0,136.9 582.5,136.3 583.0,136.0 583.5,136.1 584.0,136.6 584.5,137.4 585.0,138.3 585.5,139.4 586.0,140.4 586.5,141.2 587.0,141.8 587.5,142.0 588.0,141.8 588.5,141.4 589.0,140.8 589.5,140.3 590.0,140.0 590.5,140.0 591.0,140.2 591.5,140.7 592.0,141.3 592.5,141.8 593.0,142.0 593.5,141.5 594.0,140.4 594.5,138.7 595.0,136.8 595.5,135.0 596.0,133.8 596.5,133.4 597.0,133.9 597.5,134.9 598.0,136.2 598.5,137.5 599.0,138.7 599.5,139.7 600.0,140.7 600.5,141.5 601.0,142.1 601.5,142.4 602.0,142.4 602.5,142.0 603.0,141.3 603.5,140.6 604.0,140.1 604.5,139.8 605.0,139.7 605.5,139.6 606.0,139.6 606.5,139.3 607.0,138.9 607.5,138.3 608.0,137.7 608.5,137.1 609.0,136.5 609.5,135.6 610.0,134.4 610.5,132.5 611.0,130.0 611.5,127.3 612.0,124.8 612.5,123.6 613.0,124.4 613.5,127.2 614.0,131.7 614.5,136.8 615.0,141.5 615.5,145.1 616.0,147.5 616.5,148.7 617.0,148.6 617.5,147.5 618.0,145.4 618.5,143.0 619.0,140.7 619.5,139.1 620.0,138.7 620.5,139.4 621.0,141.3 621.5,144.1 622.0,147.4 622.5,150.7 623.0,153.2 623.5,154.3 624.0,153.8 624.5,151.9 625.0,149.2 625.5,146.1 626.0,143.2 626.5,140.7 627.0,138.4 627.5,136.4 628.0,134.6 628.5,133.4 629.0,133.0 629.5,133.4" fill="none" stroke="#7070e0" stroke-width="0.7" opacity="0.9"/>
<polyline points="551.0,139.6 551.5,139.4 552.0,139.3 552.5,139.3 553.0,139.4 553.5,139.5 554.0,139.7 554.5,139.8 555.0,140.0 555.5,140.3 556.0,140.6 556.5,141.0 557.0,141.5 557.5,142.2 558.0,142.8 558.5,143.5 559.0,144.1 559.5,144.5 560.0,144.8 560.5,144.8 561.0,144.5 561.5,143.9 562.0,143.0 562.5,141.9 563.0,140.6 563.5,139.2 564.0,137.8 564.5,136.6 565.0,135.5 565.5,134.8 566.0,134.4 566.5,134.4 567.0,134.8 567.5,135.5 568.0,136.4 568.5,137.2 569.0,138.1 569.5,138.7 570.0,139.3 570.5,139.7 571.0,140.2 571.5,140.7 572.0,141.1 572.5,141.4 573.0,141.5 573.5,141.3 574.0,141.0 574.5,140.4 575.0,139.8 575.5,139.2 576.0,138.7 576.5,138.4 577.0,138.3 577.5,138.6 578.0,139.1 578.5,139.9 579.0,140.7 579.5,141.6 580.0,142.3 580.5,142.9 581.0,143.4 581.5,143.8 582.0,144.0 582.5,143.9 583.0,143.7 583.5,143.2 584.0,142.5 584.5,141.7 585.0,141.0 585.5,140.4 586.0,139.9 586.5,139.6 587.0,139.4 587.5,139.3 588.0,139.2 588.5,139.2 589.0,139.2 589.5,139.1 590.0,139.0 590.5,138.8 591.0,138.7 591.5,138.5 592.0,138.3 592.5,138.1 593.0,137.8 593.5,137.4 594.0,136.8 594.5,136.3 595.0,135.8 595.5,135.7 596.0,136.0 596.5,136.7 597.0,137.8 597.5,139.1 598.0,140.2 598.5,141.1 599.0,141.6 599.5,141.8 600.0,141.8 600.5,141.8 601.0,141.6 601.5,141.5 602.0,141.2 602.5,141.0 603.0,140.8 603.5,140.8 604.0,140.9 604.5,141.2 605.0,141.6 605.5,142.1 606.0,142.4 606.5,142.6 607.0,142.6 607.5,142.4 608.0,142.1 608.5,141.8 609.0,141.3 609.5,140.5 610.0,139.3 610.5,137.7 611.0,135.5 611.5,133.0 612.0,130.6 612.5,128.8 613.0,128.2 613.5,128.9 614.0,130.7 614.5,133.1 615.0,135.7 615.5,138.1 616.0,140.2 616.5,141.7 617.0,142.7 617.5,143.1 618.0,142.9 618.5,142.3 619.0,141.4 619.5,140.6 620.0,140.2 620.5,140.2 621.0,140.7 621.5,141.8 622.0,143.3 622.5,145.0 623.0,146.6 623.5,147.7 624.0,148.2 624.5,148.1 625.0,147.5 625.5,146.8 626.0,145.9 626.5,144.9 627.0,143.8 627.5,142.4 628.0,140.8 628.5,139.4 629.0,138.2 629.5,137.6" fill="none" stroke="#60c060" stroke-width="0.7" opacity="0.9"/>
<polyline points="551.0,142.6 551.5,141.8 552.0,140.9 552.5,140.0 553.0,139.1 553.5,138.5 554.0,138.0 554.5,137.8 555.0,137.8 555.5,137.9 556.0,138.2 556.5,138.6 557.0,139.0 557.5,139.2 558.0,139.4 558.5,139.4 559.0,139.4 559.5,139.2 560.0,139.1 560.5,139.2 561.0,139.4 561.5,139.9 562.0,140.5 562.5,141.4 563.0,142.4 563.5,143.5 564.0,144.4 564.5,145.1 565.0,145.4 565.5,145.3 566.0,144.9 566.5,144.0 567.0,142.8 567.5,141.4 568.0,139.7 568.5,138.0 569.0,136.2 569.5,134.6 570.0,133.4 570.5,132.7 571.0,132.8 571.5,133.6 572.0,134.9 572.5,136.5 573.0,138.0 573.5,139.2 574.0,140.1 574.5,140.6 575.0,140.7 575.5,140.4 576.0,139.9 576.5,139.3 577.0,138.9 577.5,138.7 578.0,138.8 578.5,139.2 579.0,139.6 579.5,140.1 580.0,140.5 580.5,140.8 581.0,141.0 581.5,141.2 582.0,141.4 582.5,141.5 583.0,141.5 583.5,141.4 584.0,141.4 584.5,141.5 585.0,141.9 585.5,142.4 586.0,143.0 586.5,143.8 587.0,144.4 587.5,144.8 588.0,144.8 588.5,144.4 589.0,143.6 589.5,142.4 590.0,141.0 590.5,139.4 591.0,137.9 591.5,136.6 592.0,135.5 592.5,134.8 593.0,134.2 593.5,133.7 594.0,133.3 594.5,133.0 595.0,132.8 595.5,132.9 596.0,133.5 596.5,134.6 597.0,136.1 597.5,137.6 598.0,139.0 598.5,140.1 599.0,141.0 599.5,141.6 600.0,142.3 600.5,143.0 601.0,143.7 601.5,144.4 602.0,144.8 602.5,144.9 603.0,144.6 603.5,144.0 604.0,143.1 604.5,142.0 605.0,140.8 605.5,139.4 606.0,138.0 606.5,136.7 607.0,135.6 607.5,135.0 608.0,135.0 608.5,135.7 609.0,136.8 609.5,138.0 610.0,139.0 610.5,139.2 611.0,138.4 611.5,136.6 612.0,134.3 612.5,132.2 613.0,130.9 613.5,130.9 614.0,132.0 614.5,133.7 615.0,135.6 615.5,137.3 616.0,138.8 616.5,140.0 617.0,140.9 617.5,141.4 618.0,141.4 618.5,141.0 619.0,140.4 619.5,140.0 620.0,139.8 620.5,140.1 621.0,141.0 621.5,142.4 622.0,144.3 622.5,146.4 623.0,148.3 623.5,149.6 624.0,150.2 624.5,150.1 625.0,149.5 625.5,148.8 626.0,147.9 626.5,147.0 627.0,145.7 627.5,144.1 628.0,142.1 628.5,140.1 629.0,138.4 629.5,137.4" fill="none" stroke="#3a78d0" stroke-width="0.7" opacity="0.9"/>
<polyline points="551.0,143.9 551.5,143.2 552.0,142.2 552.5,141.1 553.0,139.9 553.5,138.7 554.0,137.6 554.5,136.6 555.0,135.9 555.5,135.6 556.0,135.6 556.5,136.1 557.0,136.9 557.5,137.9 558.0,138.9 558.5,140.0 559.0,140.9 559.5,141.5 560.0,141.9 560.5,142.0 561.0,142.0 561.5,141.9 562.0,141.7 562.5,141.7 563.0,141.7 563.5,141.9 564.0,142.2 564.5,142.5 565.0,142.8 565.5,142.9 566.0,142.8 566.5,142.4 567.0,141.6 567.5,140.5 568.0,138.8 568.5,136.8 569.0,134.4 569.5,132.0 570.0,130.0 570.5,128.7 571.0,128.6 571.5,129.6 572.0,131.7 572.5,134.5 573.0,137.4 573.5,140.2 574.0,142.5 574.5,144.2 575.0,145.2 575.5,145.4 576.0,144.9 576.5,143.9 577.0,142.8 577.5,141.7 578.0,140.8 578.5,140.2 579.0,139.8 579.5,139.6 580.0,139.5 580.5,139.5 581.0,139.7 581.5,139.9 582.0,140.2 582.5,140.3 583.0,140.1 583.5,139.7 584.0,139.1 584.5,138.5 585.0,138.0 585.5,137.9 586.0,138.1 586.5,138.7 587.0,139.6 587.5,140.6 588.0,141.5 588.5,142.3 589.0,142.9 589.5,143.2 590.0,143.2 590.5,142.9 591.0,142.4 591.5,141.8 592.0,141.1 592.5,140.3 593.0,139.3 593.5,138.0 594.0,136.5 594.5,134.8 595.0,133.2 595.5,132.2 596.0,131.9 596.5,132.5 597.0,133.6 597.5,135.0 598.0,136.3 598.5,137.1 599.0,137.4 599.5,137.5 600.0,137.7 600.5,138.1 601.0,138.7 601.5,139.6 602.0,140.5 602.5,141.3 603.0,142.0 603.5,142.6 604.0,143.1 604.5,143.4 605.0,143.5 605.5,143.2 606.0,142.5 606.5,141.3 607.0,140.0 607.5,138.8 608.0,138.0 608.5,137.6 609.0,137.6 609.5,137.6 610.0,137.2 610.5,135.8 611.0,133.1 611.5,129.4 612.0,125.3 612.5,122.0 613.0,120.3 613.5,120.9 614.0,123.4 614.5,127.1 615.0,131.0 615.5,134.7 616.0,138.1 616.5,141.0 617.0,143.5 617.5,145.2 618.0,146.2 618.5,146.4 619.0,146.4 619.5,146.3 620.0,146.5 620.5,147.1 621.0,148.1 621.5,149.6 622.0,151.4 622.5,153.0 623.0,154.0 623.5,153.8 624.0,152.5 624.5,150.2 625.0,147.5 625.5,144.8 626.0,142.6 626.5,140.9 627.0,139.2 627.5,137.5 628.0,135.8 628.5,134.3 629.0,133.6 629.5,133.9" fill="none" stroke="#e0a040" stroke-width="0.7" opacity="0.9"/>
<polyline points="551.0,138.8 551.5,138.5 552.0,138.5 552.5,138.8 553.0,139.5 553.5,140.3 554.0,141.1 554.5,141.9 555.0,142.5 555.5,142.9 556.0,142.9 556.5,142.7 557.0,142.2 557.5,141.5 558.0,140.5 558.5,139.4 559.0,138.2 559.5,137.0 560.0,135.9 560.5,135.1 561.0,134.5 561.5,134.3 562.0,134.5 562.5,135.0 563.0,135.9 563.5,137.1 564.0,138.4 564.5,139.9 565.0,141.4 565.5,142.8 566.0,144.0 566.5,144.9 567.0,145.4 567.5,145.4 568.0,144.9 568.5,143.8 569.0,142.3 569.5,140.4 570.0,138.4 570.5,136.6 571.0,135.4 571.5,134.8 572.0,134.9 572.5,135.6 573.0,136.6 573.5,137.8 574.0,139.2 574.5,140.4 575.0,141.6 575.5,142.4 576.0,143.0 576.5,143.2 577.0,143.2 577.5,143.1 578.0,142.7 578.5,142.2 579.0,141.6 579.5,140.8 580.0,139.9 580.5,139.1 581.0,138.4 581.5,138.0 582.0,137.9 582.5,138.0 583.0,138.1 583.5,138.4 584.0,138.7 584.5,139.0 585.0,139.3 585.5,139.7 586.0,140.1 586.5,140.4 587.0,140.7 587.5,140.8 588.0,140.8 588.5,140.6 589.0,140.3 589.5,139.9 590.0,139.5 590.5,139.2 591.0,139.0 591.5,139.0 592.0,138.9 592.5,138.9 593.0,138.9 593.5,138.6 594.0,138.1 594.5,137.5 595.0,136.9 595.5,136.6 596.0,136.8 596.5,137.5 597.0,138.7 597.5,140.0 598.0,141.3 598.5,142.2 599.0,142.8 599.5,143.1 600.0,143.2 600.5,143.2 601.0,143.2 601.5,143.0 602.0,142.6 602.5,142.0 603.0,141.3 603.5,140.5 604.0,139.8 604.5,139.1 605.0,138.5 605.5,138.0 606.0,137.4 606.5,136.7 607.0,136.1 607.5,135.7 608.0,135.6 608.5,135.8 609.0,136.1 609.5,136.5 610.0,136.6 610.5,136.2 611.0,135.0 611.5,133.3 612.0,131.4 612.5,130.0 613.0,129.8 613.5,130.9 614.0,133.1 614.5,135.8 615.0,138.5 615.5,140.6 616.0,142.1 616.5,143.0 617.0,143.3 617.5,143.1 618.0,142.3 618.5,141.2 619.0,140.1 619.5,139.5 620.0,139.5 620.5,140.2 621.0,141.7 621.5,143.9 622.0,146.6 622.5,149.2 623.0,151.5 623.5,152.9 624.0,153.2 624.5,152.4 625.0,151.0 625.5,149.2 626.0,147.2 626.5,145.2 627.0,143.1 627.5,140.8 628.0,138.5 628.5,136.5 629.0,135.1 629.5,134.5" fill="none" stroke="#b050b0" stroke-width="0.7" opacity="0.9"/>
<polyline points="551.0,135.3 551.5,134.2 552.0,133.5 552.5,133.4 553.0,133.9 553.5,134.9 554.0,136.3 554.5,137.8 555.0,139.4 555.5,140.9 556.0,142.3 556.5,143.4 557.0,144.2 557.5,144.5 558.0,144.5 558.5,144.0 559.0,143.3 559.5,142.2 560.0,141.1 560.5,139.9 561.0,138.9 561.5,138.2 562.0,137.8 562.5,137.8 563.0,138.2 563.5,139.0 564.0,140.1 564.5,141.4 565.0,142.7 565.5,143.9 566.0,144.8 566.5,145.4 567.0,145.4 567.5,144.8 568.0,143.5 568.5,141.4 569.0,138.7 569.5,135.6 570.0,132.5 570.5,129.9 571.0,128.3 571.5,127.9 572.0,128.6 572.5,130.3 573.0,132.6 573.5,135.2 574.0,137.9 574.5,140.4 575.0,142.5 575.5,144.0 576.0,144.9 576.5,145.0 577.0,144.6 577.5,143.9 578.0,142.8 578.5,141.5 579.0,140.1 579.5,138.6 580.0,137.2 580.5,136.1 581.0,135.6 581.5,135.7 582.0,136.4 582.5,137.6 583.0,138.9 583.5,140.4 584.0,141.8 584.5,143.1 585.0,144.2 585.5,145.0 586.0,145.6 586.5,145.9 587.0,145.7 587.5,145.3 588.0,144.5 588.5,143.4 589.0,142.3 589.5,141.1 590.0,140.1 590.5,139.3 591.0,138.7 591.5,138.5 592.0,138.4 592.5,138.3 593.0,137.9 593.5,137.2 594.0,135.9 594.5,134.2 595.0,132.5 595.5,130.9 596.0,130.1 596.5,130.1 597.0,130.9 597.5,132.2 598.0,133.7 598.5,135.1 599.0,136.3 599.5,137.5 600.0,138.7 600.5,140.2 601.0,141.7 601.5,143.1 602.0,144.2 602.5,144.9 603.0,145.2 603.5,145.1 604.0,144.7 604.5,144.0 605.0,143.2 605.5,142.1 606.0,140.8 606.5,139.3 607.0,137.8 607.5,136.7 608.0,136.1 608.5,136.1 609.0,136.6 609.5,137.2 610.0,137.4 610.5,136.8 611.0,135.1 611.5,132.3 612.0,129.1 612.5,126.5 613.0,125.4 613.5,126.1 614.0,128.4 614.5,131.4 615.0,134.3 615.5,136.6 616.0,138.2 616.5,139.3 617.0,139.9 617.5,140.0 618.0,139.6 618.5,139.1 619.0,138.8 619.5,139.2 620.0,140.4 620.5,142.5 621.0,145.4 621.5,148.8 622.0,152.5 622.5,155.7 623.0,157.7 623.5,158.2 624.0,156.8 624.5,153.9 625.0,150.1 625.5,146.1 626.0,142.5 626.5,139.4 627.0,136.8 627.5,134.7 628.0,133.2 628.5,132.5 629.0,133.0 629.5,134.7" fill="none" stroke="#40a0e0" stroke-width="0.7" opacity="0.9"/>
<polyline points="551.0,139.3 551.5,138.3 552.0,137.3 552.5,136.4 553.0,135.9 553.5,135.9 554.0,136.5 554.5,137.4 555.0,138.6 555.5,139.8 556.0,140.8 556.5,141.4 557.0,141.6 557.5,141.5 558.0,141.2 558.5,141.1 559.0,141.2 559.5,141.4 560.0,141.7 560.5,141.8 561.0,141.5 561.5,140.8 562.0,139.8 562.5,138.9 563.0,138.1 563.5,137.9 564.0,138.3 564.5,139.2 565.0,140.3 565.5,141.3 566.0,141.9 566.5,142.0 567.0,141.4 567.5,140.1 568.0,138.2 568.5,135.7 569.0,132.5 569.5,129.0 570.0,125.6 570.5,122.8 571.0,121.4 571.5,121.8 572.0,123.8 572.5,127.1 573.0,131.3 573.5,135.9 574.0,140.5 574.5,144.6 575.0,147.7 575.5,149.3 576.0,149.2 576.5,147.8 577.0,145.7 577.5,143.4 578.0,141.3 578.5,139.7 579.0,138.3 579.5,137.0 580.0,135.7 580.5,134.5 581.0,133.7 581.5,133.5 582.0,134.0 582.5,135.2 583.0,136.9 583.5,138.8 584.0,140.7 584.5,142.4 585.0,143.7 585.5,144.5 586.0,144.7 586.5,144.6 587.0,144.2 587.5,143.8 588.0,143.5 588.5,143.2 589.0,143.0 589.5,142.6 590.0,142.0 590.5,141.2 591.0,140.4 591.5,139.5 592.0,138.7 592.5,137.8 593.0,136.7 593.5,134.8 594.0,131.8 594.5,127.9 595.0,123.5 595.5,119.8 596.0,117.6 596.5,117.7 597.0,120.0 597.5,123.8 598.0,128.4 598.5,132.7 599.0,136.5 599.5,139.5 600.0,141.8 600.5,143.8 601.0,145.3 601.5,146.5 602.0,147.2 602.5,147.3 603.0,146.9 603.5,146.2 604.0,145.2 604.5,143.9 605.0,142.2 605.5,139.9 606.0,137.3 606.5,134.5 607.0,132.1 607.5,130.7 608.0,130.5 608.5,131.5 609.0,133.0 609.5,134.0 610.0,133.2 610.5,129.9 611.0,123.7 611.5,115.3 612.0,106.6 612.5,100.1 613.0,98.0 613.5,101.1 614.0,108.4 614.5,117.5 615.0,126.5 615.5,134.0 616.0,140.1 616.5,144.8 617.0,148.3 617.5,150.2 618.0,150.4 618.5,149.3 619.0,147.6 619.5,146.3 620.0,146.0 620.5,147.4 621.0,150.8 621.5,156.1 622.0,162.6 622.5,169.2 623.0,174.0 623.5,175.7 624.0,173.6 624.5,168.1 625.0,160.7 625.5,153.1 626.0,146.4 626.5,141.0 627.0,136.6 627.5,132.8 628.0,129.5 628.5,127.0 629.0,126.3 629.5,127.5" fill="none" stroke="#f0a040" stroke-width="0.8"/>
<polyline points="551.0,140.5 551.5,140.5 552.0,139.8 552.5,138.7 553.0,137.7 553.5,137.3 554.0,137.8 554.5,138.8 555.0,139.8 555.5,140.4 556.0,140.5 556.5,140.3 557.0,140.4 557.5,140.9 558.0,141.7 558.5,142.4 559.0,142.4 559.5,141.5 560.0,140.1 560.5,138.8 561.0,138.3 561.5,138.6 562.0,139.6 562.5,140.5 563.0,141.1 563.5,141.0 564.0,140.8 564.5,140.8 565.0,141.2 565.5,141.8 566.0,142.1 566.5,141.6 567.0,140.3 567.5,138.4 568.0,136.6 568.5,135.0 569.0,133.9 569.5,133.0 570.0,131.9 570.5,130.8 571.0,130.1 571.5,130.3 572.0,131.8 572.5,134.4 573.0,137.5 573.5,140.1 574.0,141.7 574.5,142.4 575.0,142.3 575.5,142.2 576.0,142.3 576.5,142.7 577.0,143.2 577.5,143.2 578.0,142.6 578.5,141.3 579.0,139.9 579.5,138.8 580.0,138.1 580.5,137.8 581.0,137.5 581.5,137.1 582.0,136.6 582.5,136.5 583.0,137.0 583.5,138.3 584.0,140.1 584.5,141.8 585.0,142.9 585.5,143.2 586.0,142.8 586.5,142.5 587.0,142.5 587.5,142.8 588.0,143.1 588.5,142.9 589.0,142.0 589.5,140.8 590.0,139.8 590.5,139.5 591.0,140.2 591.5,141.2 592.0,142.0 592.5,141.7 593.0,140.0 593.5,137.3 594.0,134.0 594.5,130.9 595.0,128.3 595.5,126.6 596.0,125.8 596.5,126.1 597.0,127.4 597.5,129.8 598.0,133.1 598.5,136.7 599.0,140.1 599.5,142.5 600.0,143.8 600.5,144.1 601.0,143.8 601.5,143.6 602.0,143.6 602.5,143.6 603.0,143.3 603.5,142.4 604.0,141.2 604.5,140.0 605.0,139.3 605.5,139.2 606.0,139.5 606.5,139.7 607.0,139.2 607.5,137.9 608.0,136.4 608.5,135.2 609.0,134.8 609.5,135.0 610.0,134.9 610.5,133.5 611.0,130.0 611.5,124.8 612.0,119.2 612.5,115.1 613.0,114.3 613.5,117.0 614.0,122.2 614.5,128.1 615.0,133.2 615.5,137.0 616.0,140.0 616.5,142.6 617.0,145.0 617.5,146.6 618.0,146.9 618.5,146.0 619.0,144.4 619.5,143.2 620.0,143.2 620.5,144.8 621.0,147.8 621.5,151.5 622.0,155.0 622.5,157.7 623.0,159.0 623.5,158.9 624.0,157.7 624.5,155.5 625.0,152.7 625.5,149.5 626.0,146.1 626.5,142.7 627.0,139.6 627.5,136.8 628.0,134.6 628.5,133.2 629.0,132.6 629.5,132.6" fill="none" stroke="#e8b050" stroke-width="0.7" opacity="0.9"/>
<text x="463.6" y="207" font-size="17.5" textLength="170" lengthAdjust="spacingAndGlyphs">EEG Signal Acquisition</text>

<!-- arrows left -> comparison -->
<line x1="383" y1="91.2" x2="423" y2="91.2" stroke="#4472C4" stroke-width="3" stroke-dasharray="11.4 4"/>
<polygon points="422,86 433,91.2 422,96.4" fill="#4472C4"/>
<line x1="383" y1="166.2" x2="423" y2="166.2" stroke="#843C0C" stroke-width="3" stroke-dasharray="11.4 4"/>
<polygon points="422,161 433,166.2 422,171.4" fill="#843C0C"/>
<!-- arrows comparison -> analysis -->
<line x1="637" y1="93.9" x2="676" y2="93.9" stroke="#4472C4" stroke-width="3" stroke-dasharray="11.5 4"/>
<polygon points="675.5,88.5 686.3,93.9 675.5,99.3" fill="#4472C4"/>
<line x1="637" y1="173.5" x2="672" y2="173.5" stroke="#843C0C" stroke-width="3" stroke-dasharray="11.5 4"/>
<polygon points="671,168 682.5,173.5 671,179" fill="#843C0C"/>

<!-- ===== EXPERIMENTAL ANALYSIS ===== -->
<rect x="682.7" y="22.8" width="414.4" height="468.8" fill="none" stroke="#222" stroke-width="1.4" stroke-dasharray="2.6 1.4"/>
<text class="b" x="690.7" y="42.6" font-size="17.5">Experimental analysis</text>

<!-- gray connector -->
<path d="M709.3,399 V108 H724" fill="none" stroke="#A6A6A6" stroke-width="5.2"/>
<path d="M709.3,256 H724 M709.3,399 H724" fill="none" stroke="#A6A6A6" stroke-width="5.2"/>
<polygon points="723.4,102.6 728.8,108 723.4,113.4" fill="#A6A6A6"/>
<polygon points="723.4,250.6 728.8,256 723.4,261.4" fill="#A6A6A6"/>
<polygon points="723.4,393.6 728.8,399 723.4,404.4" fill="#A6A6A6"/>

<!-- boxes -->
<rect x="731.5" y="80.2" width="103" height="52.4" fill="#fff" stroke="#333" stroke-width="1.2"/>
<rect x="731.5" y="231.4" width="102.5" height="52.4" fill="#fff" stroke="#333" stroke-width="1.2"/>
<rect x="732.3" y="366" width="102.3" height="73" fill="#fff" stroke="#333" stroke-width="1.2"/>
<g font-size="17.5" text-anchor="middle">
<text x="783" y="102.3">ERP</text><text x="783" y="122.7">Analysis</text>
<text x="810.3" y="156">Audiovisual</text><text x="810.3" y="177.3">stimulation</text><text x="810.3" y="197.7">effectiveness</text>
<text x="783" y="253.2">PSD</text><text x="783" y="274.8">Analysis</text>
<text x="813" y="301.2">Brain region</text><text x="813" y="322">activation level</text>
<text x="783.5" y="387.3">Brain</text><text x="783.5" y="408.6">network</text><text x="783.5" y="429.6">analysis</text>
<text x="813" y="460.4">Brain network</text><text x="813" y="481.7">functional connectivity</text>
</g>
<!-- black arrows -->
<polygon points="840.9,98.2 857.3,98.2 857.3,89.7 873,105.5 857.3,121.3 857.3,112.8 840.9,112.8" fill="#000"/>
<polygon points="841.2,248.8 857.3,248.8 857.3,240.2 873,256 857.3,271.8 857.3,263.2 841.2,263.2" fill="#000"/>
<polygon points="841.4,390.5 857.3,390.5 857.3,381.9 873,397.7 857.3,413.5 857.3,404.9 841.4,404.9" fill="#000"/>

<!-- stacks -->
<g fill="#fff" stroke="#111" stroke-width="1.6">
<rect x="887" y="33.6" width="173.5" height="120.9"/>
<rect x="897.8" y="46.5" width="176.6" height="118"/>
<rect x="910.9" y="58.6" width="176.3" height="118.2"/>
<rect x="887.3" y="186.4" width="173" height="119.5"/>
<rect x="898" y="198.7" width="176.5" height="117"/>
<rect x="911" y="210.6" width="176.2" height="117"/>
<rect x="887.4" y="339.4" width="173.3" height="122.1"/>
<rect x="898" y="352.2" width="176.5" height="118.8"/>
<rect x="911" y="365.2" width="176" height="118.5"/>
</g>
<rect x="941" y="79" width="126.59999999999991" height="77" fill="none" stroke="#999" stroke-width="0.6"/>
<text x="949.6" y="76.4" font-size="6.2" textLength="110.4" lengthAdjust="spacingAndGlyphs" fill="#222">Event 3 and 7: parietal channel Fpz</text>
<text x="939.5" y="80.8" font-size="5" text-anchor="end" fill="#333">10</text>
<text x="939.5" y="100.3" font-size="5" text-anchor="end" fill="#333">5</text>
<text x="939.5" y="119.3" font-size="5" text-anchor="end" fill="#333">0</text>
<text x="939.5" y="138.8" font-size="5" text-anchor="end" fill="#333">−5</text>
<text x="939.5" y="157.8" font-size="5" text-anchor="end" fill="#333">−10</text>
<text x="941" y="163" font-size="5" text-anchor="middle" fill="#333">−500</text>
<text x="962" y="163" font-size="5" text-anchor="middle" fill="#333">−250</text>
<text x="983.6" y="163" font-size="5" text-anchor="middle" fill="#333">0</text>
<text x="1004" y="163" font-size="5" text-anchor="middle" fill="#333">250</text>
<text x="1025.6" y="163" font-size="5" text-anchor="middle" fill="#333">500</text>
<text x="1046" y="163" font-size="5" text-anchor="middle" fill="#333">750</text>
<text x="1067.6" y="163" font-size="5" text-anchor="middle" fill="#333">1000</text>
<text x="1004" y="170" font-size="6" text-anchor="middle" fill="#222">Time (ms)</text>
<text x="0" y="0" font-size="6" text-anchor="middle" fill="#222" transform="translate(926,117.5) rotate(-90)" font-style="italic">Amplitude (μV)</text>
<line x1="983.6" y1="79" x2="983.6" y2="156" stroke="#555" stroke-width="0.6" stroke-dasharray="2 1.5"/>
<polyline points="941.0,120.0 946.0,116.0 953.0,114.0 960.0,115.0 968.0,115.0 974.0,118.0 978.0,114.0 982.0,116.0 986.0,118.0 990.0,120.0 994.0,122.0 998.0,116.0 1002.0,115.0 1008.0,117.0 1014.0,118.0 1020.0,119.0 1024.0,116.0 1027.0,110.0 1029.0,107.0 1031.0,115.0 1036.0,117.0 1040.0,118.0 1044.0,121.0 1048.0,122.0 1052.0,116.0 1058.0,117.0 1064.0,119.0 1067.0,118.0" fill="none" stroke="#3a8ee0" stroke-width="1.5" stroke-dasharray="1.8 1.2"/>
<polyline points="941.0,119.0 942.0,116.9 943.0,117.6 944.0,116.0 944.7,118.1 945.3,119.2 946.0,121.0 947.3,121.1 948.6,123.9 950.0,124.0 951.0,127.0 952.0,128.0 953.0,130.0 953.7,132.7 954.3,134.4 955.0,138.0 955.7,134.4 956.3,133.6 957.0,132.0 957.7,126.3 958.3,118.7 959.0,114.0 959.7,112.3 960.3,107.9 961.0,106.0 961.7,108.1 962.3,110.5 963.0,115.0 963.7,116.3 964.3,115.1 965.0,114.0 966.0,114.2 967.0,112.4 968.0,111.0 969.0,108.8 970.0,109.1 971.0,109.0 971.7,109.3 972.3,108.4 973.0,110.0 973.7,114.1 974.3,114.9 975.0,118.0 976.0,118.2 977.0,121.7 978.0,122.0 978.7,122.1 979.3,126.0 980.0,126.0 981.0,124.5 982.0,123.5 983.0,122.0 983.7,124.1 984.3,127.2 985.0,130.0 986.0,126.4 987.0,123.2 988.0,122.0 989.3,122.5 990.6,119.8 992.0,120.0 993.0,119.2 994.0,115.8 995.0,115.0 995.7,117.8 996.3,118.9 997.0,119.0 998.0,120.8 999.0,121.8 1000.0,122.0 1001.0,121.6 1002.0,121.4 1003.0,120.0 1003.7,122.8 1004.3,127.8 1005.0,132.0 1006.0,131.7 1007.0,128.4 1008.0,128.0 1009.0,128.7 1010.0,127.9 1011.0,126.0 1012.0,125.7 1013.0,125.6 1014.0,126.0 1015.0,126.5 1016.0,127.0 1017.0,128.0 1018.0,128.3 1019.0,125.0 1020.0,124.0 1020.7,121.8 1021.3,121.4 1022.0,122.0 1022.3,119.4 1022.7,117.0 1023.0,112.0 1023.3,106.0 1023.7,100.1 1024.0,94.0 1024.7,90.9 1025.3,88.2 1026.0,84.0 1026.7,85.1 1027.3,88.3 1028.0,90.0 1029.0,90.8 1030.0,91.7 1031.0,92.0 1031.7,92.3 1032.3,93.6 1033.0,96.0 1034.0,98.8 1035.0,104.0 1036.0,106.0 1037.0,108.8 1038.0,112.9 1039.0,116.0 1040.0,117.4 1041.0,118.7 1042.0,122.0 1042.7,123.3 1043.3,128.3 1044.0,130.0 1044.7,131.5 1045.3,130.9 1046.0,132.0 1046.7,129.9 1047.3,127.3 1048.0,124.0 1049.0,126.6 1050.0,128.1 1051.0,128.0 1051.7,129.7 1052.3,133.5 1053.0,134.0 1053.7,138.1 1054.3,139.6 1055.0,142.0 1055.7,141.2 1056.3,138.0 1057.0,136.0 1057.7,133.0 1058.3,129.9 1059.0,128.0 1059.7,129.9 1060.3,128.2 1061.0,130.0 1061.7,126.0 1062.3,125.7 1063.0,122.0 1063.7,118.6 1064.3,113.4 1065.0,109.0 1065.7,112.4 1066.3,112.2 1067.0,116.0" fill="none" stroke="#e0602a" stroke-width="1.2" stroke-linejoin="round"/>
<ellipse cx="1027" cy="100" rx="7" ry="19" fill="none" stroke="#111" stroke-width="0.9"/>
<text x="1002" y="89" font-size="5" text-anchor="middle" fill="#222">P300</text>
<line x1="1008" y1="89" x2="1020" y2="93" stroke="#222" stroke-width="0.5"/>
<text x="946" y="100" font-size="5.2" fill="#222">Start stimulation</text>
<line x1="966" y1="102" x2="983" y2="146" stroke="#222" stroke-width="0.6"/>
<rect x="995" y="135" width="53" height="10" fill="#fff" stroke="#222" stroke-width="0.5"/>
<line x1="997" y1="138" x2="1006" y2="138" stroke="#3a8ee0" stroke-width="1.2" stroke-dasharray="1.5 1"/>
<line x1="997" y1="142.5" x2="1006" y2="142.5" stroke="#e0602a" stroke-width="0.9"/>
<text x="1008" y="139.5" font-size="3.6" fill="#333">Standard</text>
<text x="1008" y="144" font-size="3.6" fill="#333">Sensory Immersive</text>
<defs><filter id="tblur" x="-50%" y="-50%" width="200%" height="200%"><feGaussianBlur stdDeviation="1.6"/></filter><linearGradient id="jetv" x1="0" y1="0" x2="0" y2="1"><stop offset="0" stop-color="#800000"/><stop offset="0.12" stop-color="#ff0000"/><stop offset="0.38" stop-color="#ffff00"/><stop offset="0.6" stop-color="#00ffff"/><stop offset="0.88" stop-color="#0000ff"/><stop offset="1" stop-color="#000080"/></linearGradient><linearGradient id="jeth" x1="0" y1="0" x2="1" y2="0"><stop offset="0" stop-color="#30d0f0"/><stop offset="0.5" stop-color="#f0e030"/><stop offset="0.75" stop-color="#f06020"/><stop offset="1" stop-color="#c00000"/></linearGradient></defs>
<clipPath id="tc1"><ellipse cx="943.2" cy="247.7" rx="21.4" ry="21.4"/></clipPath>
<g clip-path="url(#tc1)"><rect x="919.8000000000001" y="224.29999999999998" width="46.8" height="46.8" fill="#48e0e0"/>
<g filter="url(#tblur)">
<ellipse cx="933.6" cy="239.6" rx="6.4" ry="5.8" fill="#e8e050"/>
<ellipse cx="933.6" cy="239.6" rx="3.2" ry="2.8" fill="#f08a30"/>
<ellipse cx="949.6" cy="250.3" rx="18.2" ry="2.8" fill="#c8e860"/>
<ellipse cx="948.6" cy="255.4" rx="20.3" ry="4.3" fill="#f08a30"/>
<ellipse cx="946.4" cy="264.4" rx="22.5" ry="9.0" fill="#e83a1c"/>
<ellipse cx="961.4" cy="254.1" rx="6.4" ry="9.0" fill="#e84020"/>
<ellipse cx="945.3" cy="262.7" rx="5.3" ry="2.1" fill="#f0c040"/>
</g>
<path d="M921.8,229.5 C934.6,231.6 951.8,231.1 964.6,228.5" fill="none" stroke="#333" stroke-width="0.3" opacity="0.45"/>
<path d="M921.8,237.4 C934.6,237.1 951.8,238.3 964.6,238.6" fill="none" stroke="#333" stroke-width="0.3" opacity="0.45"/>
<path d="M921.8,243.1 C934.6,240.2 951.8,245.1 964.6,242.8" fill="none" stroke="#333" stroke-width="0.3" opacity="0.45"/>
<path d="M921.8,251.9 C934.6,248.9 951.8,251.6 964.6,252.8" fill="none" stroke="#333" stroke-width="0.3" opacity="0.45"/>
<path d="M921.8,257.2 C934.6,259.8 951.8,259.6 964.6,255.3" fill="none" stroke="#333" stroke-width="0.3" opacity="0.45"/>
<path d="M921.8,263.4 C934.6,263.6 951.8,266.0 964.6,262.9" fill="none" stroke="#333" stroke-width="0.3" opacity="0.45"/>
</g>
<ellipse cx="943.5" cy="247.1" rx="16.9" ry="16.2" fill="none" stroke="#1a1a1a" stroke-width="0.8"/>
<path d="M941.1,231.5 L943.5,229.1 L945.9,231.5" fill="none" stroke="#1a1a1a" stroke-width="0.7"/>
<rect x="924.8" y="243.6" width="1.8" height="7" fill="none" stroke="#1a1a1a" stroke-width="0.6"/>
<rect x="960.4" y="243.6" width="1.8" height="7" fill="none" stroke="#1a1a1a" stroke-width="0.6"/>
<rect x="936.3" y="246.0" width="2.6" height="0.9" fill="#222" opacity="0.55"/>
<rect x="931.6" y="240.9" width="2.6" height="0.9" fill="#222" opacity="0.55"/>
<rect x="941.9" y="247.8" width="2.6" height="0.9" fill="#222" opacity="0.55"/>
<rect x="936.7" y="241.1" width="2.6" height="0.9" fill="#222" opacity="0.55"/>
<rect x="936.4" y="246.9" width="2.6" height="0.9" fill="#222" opacity="0.55"/>
<rect x="938.2" y="235.8" width="2.6" height="0.9" fill="#222" opacity="0.55"/>
<rect x="952.1" y="249.4" width="2.6" height="0.9" fill="#222" opacity="0.55"/>
<rect x="947.1" y="240.0" width="2.6" height="0.9" fill="#222" opacity="0.55"/>
<rect x="956.0" y="257.1" width="2.6" height="0.9" fill="#222" opacity="0.55"/>
<rect x="933.9" y="243.7" width="2.6" height="0.9" fill="#222" opacity="0.55"/>
<rect x="949.1" y="253.3" width="2.6" height="0.9" fill="#222" opacity="0.55"/>
<rect x="954.6" y="246.0" width="2.6" height="0.9" fill="#222" opacity="0.55"/>
<rect x="951.9" y="252.3" width="2.6" height="0.9" fill="#222" opacity="0.55"/>
<rect x="938.5" y="250.2" width="2.6" height="0.9" fill="#222" opacity="0.55"/>
<clipPath id="tc2"><ellipse cx="997.5" cy="247.7" rx="21.6" ry="21.6"/></clipPath>
<g clip-path="url(#tc2)"><rect x="973.9" y="224.1" width="47.2" height="47.2" fill="#f07a2a"/>
<g filter="url(#tblur)">
<ellipse cx="997.5" cy="230.4" rx="21.6" ry="8.6" fill="#70e080"/>
<ellipse cx="997.5" cy="238.6" rx="21.6" ry="2.8" fill="#e0e040"/>
<ellipse cx="991.0" cy="246.6" rx="11.9" ry="5.4" fill="#ec4a20"/>
<ellipse cx="1006.1" cy="246.6" rx="9.7" ry="4.8" fill="#ee5a22"/>
<ellipse cx="994.3" cy="252.5" rx="6.0" ry="3.5" fill="#e8e050"/>
<ellipse cx="994.3" cy="252.5" rx="2.4" ry="1.9" fill="#40d0e0"/>
<ellipse cx="1005.7" cy="252.0" rx="4.3" ry="2.6" fill="#f0d040"/>
<ellipse cx="999.7" cy="259.6" rx="7.6" ry="3.2" fill="#e83a1c"/>
<ellipse cx="997.5" cy="267.1" rx="17.3" ry="4.3" fill="#f4a030"/>
</g>
<path d="M975.9,231.8 C988.9,234.5 1006.1,229.1 1019.1,230.1" fill="none" stroke="#333" stroke-width="0.3" opacity="0.45"/>
<path d="M975.9,238.3 C988.9,239.8 1006.1,239.4 1019.1,237.6" fill="none" stroke="#333" stroke-width="0.3" opacity="0.45"/>
<path d="M975.9,244.6 C988.9,245.2 1006.1,245.0 1019.1,243.2" fill="none" stroke="#333" stroke-width="0.3" opacity="0.45"/>
<path d="M975.9,250.9 C988.9,250.3 1006.1,252.3 1019.1,252.9" fill="none" stroke="#333" stroke-width="0.3" opacity="0.45"/>
<path d="M975.9,259.4 C988.9,259.7 1006.1,259.1 1019.1,258.5" fill="none" stroke="#333" stroke-width="0.3" opacity="0.45"/>
<path d="M975.9,263.6 C988.9,260.8 1006.1,263.4 1019.1,262.9" fill="none" stroke="#333" stroke-width="0.3" opacity="0.45"/>
</g>
<ellipse cx="997.8" cy="247.1" rx="17.1" ry="16.4" fill="none" stroke="#1a1a1a" stroke-width="0.8"/>
<path d="M995.4,231.3 L997.8,228.9 L1000.2,231.3" fill="none" stroke="#1a1a1a" stroke-width="0.7"/>
<rect x="978.9" y="243.6" width="1.8" height="7" fill="none" stroke="#1a1a1a" stroke-width="0.6"/>
<rect x="1014.9" y="243.6" width="1.8" height="7" fill="none" stroke="#1a1a1a" stroke-width="0.6"/>
<rect x="994.7" y="258.0" width="2.6" height="0.9" fill="#222" opacity="0.55"/>
<rect x="998.5" y="249.5" width="2.6" height="0.9" fill="#222" opacity="0.55"/>
<rect x="991.0" y="235.8" width="2.6" height="0.9" fill="#222" opacity="0.55"/>
<rect x="993.3" y="238.7" width="2.6" height="0.9" fill="#222" opacity="0.55"/>
<rect x="998.1" y="260.7" width="2.6" height="0.9" fill="#222" opacity="0.55"/>
<rect x="1002.3" y="239.8" width="2.6" height="0.9" fill="#222" opacity="0.55"/>
<rect x="1007.9" y="255.5" width="2.6" height="0.9" fill="#222" opacity="0.55"/>
<rect x="1003.8" y="258.4" width="2.6" height="0.9" fill="#222" opacity="0.55"/>
<rect x="1004.5" y="255.4" width="2.6" height="0.9" fill="#222" opacity="0.55"/>
<rect x="994.1" y="260.3" width="2.6" height="0.9" fill="#222" opacity="0.55"/>
<rect x="1009.6" y="239.3" width="2.6" height="0.9" fill="#222" opacity="0.55"/>
<rect x="1004.3" y="253.5" width="2.6" height="0.9" fill="#222" opacity="0.55"/>
<rect x="996.8" y="248.7" width="2.6" height="0.9" fill="#222" opacity="0.55"/>
<rect x="997.5" y="258.8" width="2.6" height="0.9" fill="#222" opacity="0.55"/>
<clipPath id="tc3"><ellipse cx="1052.3" cy="247.9" rx="21.8" ry="21.8"/></clipPath>
<g clip-path="url(#tc3)"><rect x="1028.5" y="224.1" width="47.6" height="47.6" fill="#f4b030"/>
<g filter="url(#tblur)">
<ellipse cx="1054.5" cy="229.4" rx="20.7" ry="6.5" fill="#f08030"/>
<ellipse cx="1063.2" cy="229.4" rx="8.7" ry="4.4" fill="#e84a20"/>
<ellipse cx="1052.3" cy="241.4" rx="19.6" ry="4.4" fill="#f4d840"/>
<ellipse cx="1052.3" cy="254.4" rx="16.4" ry="6.5" fill="#a8e070"/>
<ellipse cx="1051.2" cy="255.1" rx="10.9" ry="3.3" fill="#50e0e0"/>
<ellipse cx="1044.7" cy="255.5" rx="2.6" ry="1.7" fill="#2080f0"/>
<ellipse cx="1055.6" cy="256.6" rx="2.2" ry="1.7" fill="#2a90f0"/>
<ellipse cx="1073.0" cy="249.0" rx="4.8" ry="9.8" fill="#e03a1c"/>
<ellipse cx="1032.2" cy="252.3" rx="5.5" ry="8.7" fill="#f07a28"/>
<ellipse cx="1052.3" cy="265.8" rx="13.1" ry="4.4" fill="#f0c840"/>
<ellipse cx="1068.6" cy="259.9" rx="2.6" ry="2.2" fill="#70e0c0"/>
</g>
<path d="M1030.5,229.7 C1043.6,229.9 1061.0,228.9 1074.1,230.1" fill="none" stroke="#333" stroke-width="0.3" opacity="0.45"/>
<path d="M1030.5,237.8 C1043.6,235.2 1061.0,234.9 1074.1,239.2" fill="none" stroke="#333" stroke-width="0.3" opacity="0.45"/>
<path d="M1030.5,243.7 C1043.6,242.1 1061.0,246.7 1074.1,243.6" fill="none" stroke="#333" stroke-width="0.3" opacity="0.45"/>
<path d="M1030.5,252.4 C1043.6,252.3 1061.0,253.2 1074.1,251.0" fill="none" stroke="#333" stroke-width="0.3" opacity="0.45"/>
<path d="M1030.5,258.8 C1043.6,261.0 1061.0,258.9 1074.1,259.7" fill="none" stroke="#333" stroke-width="0.3" opacity="0.45"/>
<path d="M1030.5,265.9 C1043.6,263.2 1061.0,267.4 1074.1,266.2" fill="none" stroke="#333" stroke-width="0.3" opacity="0.45"/>
</g>
<ellipse cx="1052.6" cy="247.3" rx="17.2" ry="16.5" fill="none" stroke="#1a1a1a" stroke-width="0.8"/>
<path d="M1050.2,231.4 L1052.6,229.0 L1055.0,231.4" fill="none" stroke="#1a1a1a" stroke-width="0.7"/>
<rect x="1033.6" y="243.8" width="1.8" height="7" fill="none" stroke="#1a1a1a" stroke-width="0.6"/>
<rect x="1069.8" y="243.8" width="1.8" height="7" fill="none" stroke="#1a1a1a" stroke-width="0.6"/>
<rect x="1047.5" y="236.0" width="2.6" height="0.9" fill="#222" opacity="0.55"/>
<rect x="1062.0" y="247.5" width="2.6" height="0.9" fill="#222" opacity="0.55"/>
<rect x="1058.3" y="257.9" width="2.6" height="0.9" fill="#222" opacity="0.55"/>
<rect x="1058.1" y="259.0" width="2.6" height="0.9" fill="#222" opacity="0.55"/>
<rect x="1049.9" y="255.9" width="2.6" height="0.9" fill="#222" opacity="0.55"/>
<rect x="1051.2" y="259.4" width="2.6" height="0.9" fill="#222" opacity="0.55"/>
<rect x="1062.4" y="237.8" width="2.6" height="0.9" fill="#222" opacity="0.55"/>
<rect x="1043.2" y="240.9" width="2.6" height="0.9" fill="#222" opacity="0.55"/>
<rect x="1064.6" y="246.5" width="2.6" height="0.9" fill="#222" opacity="0.55"/>
<rect x="1055.9" y="243.0" width="2.6" height="0.9" fill="#222" opacity="0.55"/>
<rect x="1052.8" y="245.2" width="2.6" height="0.9" fill="#222" opacity="0.55"/>
<rect x="1048.7" y="250.4" width="2.6" height="0.9" fill="#222" opacity="0.55"/>
<rect x="1054.8" y="258.6" width="2.6" height="0.9" fill="#222" opacity="0.55"/>
<rect x="1057.3" y="259.2" width="2.6" height="0.9" fill="#222" opacity="0.55"/>
<clipPath id="tc4"><ellipse cx="966.7" cy="297.5" rx="22.3" ry="21"/></clipPath>
<g clip-path="url(#tc4)"><rect x="942.4000000000001" y="274.5" width="48.6" height="46" fill="#f05a22"/>
<g filter="url(#tblur)">
<ellipse cx="966.7" cy="276.9" rx="22.3" ry="4.6" fill="#70e0b0"/>
<ellipse cx="966.7" cy="283.2" rx="17.8" ry="6.9" fill="#40e0f0"/>
<ellipse cx="966.7" cy="290.6" rx="20.1" ry="2.1" fill="#e8d840"/>
<ellipse cx="965.6" cy="302.8" rx="4.9" ry="2.7" fill="#60e0c0"/>
<ellipse cx="967.8" cy="308.0" rx="3.6" ry="2.1" fill="#f0e040"/>
<ellipse cx="966.7" cy="318.1" rx="20.1" ry="5.2" fill="#60e0c0"/>
<ellipse cx="966.7" cy="313.5" rx="16.7" ry="2.1" fill="#d0e050"/>
<ellipse cx="946.2" cy="297.5" rx="4.5" ry="8.8" fill="#e02818"/>
<ellipse cx="987.2" cy="297.5" rx="4.5" ry="8.8" fill="#e02818"/>
</g>
<path d="M944.4,279.9 C957.8,277.5 975.6,279.3 989.0,278.5" fill="none" stroke="#333" stroke-width="0.3" opacity="0.45"/>
<path d="M944.4,286.1 C957.8,285.5 975.6,288.6 989.0,287.3" fill="none" stroke="#333" stroke-width="0.3" opacity="0.45"/>
<path d="M944.4,294.9 C957.8,293.3 975.6,295.2 989.0,294.0" fill="none" stroke="#333" stroke-width="0.3" opacity="0.45"/>
<path d="M944.4,299.9 C957.8,297.5 975.6,298.2 989.0,301.6" fill="none" stroke="#333" stroke-width="0.3" opacity="0.45"/>
<path d="M944.4,308.6 C957.8,310.4 975.6,310.4 989.0,307.3" fill="none" stroke="#333" stroke-width="0.3" opacity="0.45"/>
<path d="M944.4,313.7 C957.8,314.5 975.6,315.1 989.0,315.1" fill="none" stroke="#333" stroke-width="0.3" opacity="0.45"/>
</g>
<ellipse cx="967.0" cy="296.9" rx="17.6" ry="16.9" fill="none" stroke="#1a1a1a" stroke-width="0.8"/>
<path d="M964.6,280.6 L967.0,278.2 L969.4,280.6" fill="none" stroke="#1a1a1a" stroke-width="0.7"/>
<rect x="947.6" y="293.4" width="1.8" height="7" fill="none" stroke="#1a1a1a" stroke-width="0.6"/>
<rect x="984.6" y="293.4" width="1.8" height="7" fill="none" stroke="#1a1a1a" stroke-width="0.6"/>
<rect x="977.0" y="286.9" width="2.6" height="0.9" fill="#222" opacity="0.55"/>
<rect x="969.8" y="302.3" width="2.6" height="0.9" fill="#222" opacity="0.55"/>
<rect x="967.2" y="289.3" width="2.6" height="0.9" fill="#222" opacity="0.55"/>
<rect x="966.3" y="286.9" width="2.6" height="0.9" fill="#222" opacity="0.55"/>
<rect x="978.5" y="307.4" width="2.6" height="0.9" fill="#222" opacity="0.55"/>
<rect x="968.3" y="292.5" width="2.6" height="0.9" fill="#222" opacity="0.55"/>
<rect x="977.8" y="299.7" width="2.6" height="0.9" fill="#222" opacity="0.55"/>
<rect x="977.1" y="307.0" width="2.6" height="0.9" fill="#222" opacity="0.55"/>
<rect x="967.2" y="295.5" width="2.6" height="0.9" fill="#222" opacity="0.55"/>
<rect x="969.6" y="296.0" width="2.6" height="0.9" fill="#222" opacity="0.55"/>
<rect x="958.1" y="292.6" width="2.6" height="0.9" fill="#222" opacity="0.55"/>
<rect x="975.3" y="285.7" width="2.6" height="0.9" fill="#222" opacity="0.55"/>
<rect x="955.0" y="301.1" width="2.6" height="0.9" fill="#222" opacity="0.55"/>
<rect x="961.2" y="298.7" width="2.6" height="0.9" fill="#222" opacity="0.55"/>
<clipPath id="tc5"><ellipse cx="1023" cy="297.5" rx="21.9" ry="21"/></clipPath>
<g clip-path="url(#tc5)"><rect x="999.1" y="274.5" width="47.8" height="46" fill="#f4b030"/>
<g filter="url(#tblur)">
<ellipse cx="1023.0" cy="281.1" rx="20.8" ry="7.3" fill="#f28a2c"/>
<ellipse cx="1009.9" cy="287.0" rx="6.6" ry="6.3" fill="#e8501e"/>
<ellipse cx="1009.9" cy="301.7" rx="7.7" ry="7.3" fill="#90e090"/>
<ellipse cx="1012.0" cy="310.5" rx="7.7" ry="5.2" fill="#50d8d8"/>
<ellipse cx="1031.8" cy="299.6" rx="7.9" ry="4.2" fill="#50d0f0"/>
<ellipse cx="1031.8" cy="299.6" rx="3.9" ry="2.1" fill="#2060e0"/>
<ellipse cx="1023.0" cy="305.5" rx="7.7" ry="3.1" fill="#f0d040"/>
<ellipse cx="1032.2" cy="314.7" rx="10.9" ry="5.2" fill="#e0281a"/>
</g>
<path d="M1001.1,281.1 C1014.2,282.5 1031.8,282.8 1044.9,282.8" fill="none" stroke="#333" stroke-width="0.3" opacity="0.45"/>
<path d="M1001.1,288.1 C1014.2,290.7 1031.8,285.3 1044.9,288.0" fill="none" stroke="#333" stroke-width="0.3" opacity="0.45"/>
<path d="M1001.1,295.5 C1014.2,296.4 1031.8,297.9 1044.9,293.9" fill="none" stroke="#333" stroke-width="0.3" opacity="0.45"/>
<path d="M1001.1,300.8 C1014.2,299.2 1031.8,301.0 1044.9,301.1" fill="none" stroke="#333" stroke-width="0.3" opacity="0.45"/>
<path d="M1001.1,306.1 C1014.2,304.4 1031.8,304.8 1044.9,307.8" fill="none" stroke="#333" stroke-width="0.3" opacity="0.45"/>
<path d="M1001.1,315.1 C1014.2,313.1 1031.8,316.9 1044.9,313.7" fill="none" stroke="#333" stroke-width="0.3" opacity="0.45"/>
</g>
<ellipse cx="1023.3" cy="296.9" rx="17.3" ry="16.6" fill="none" stroke="#1a1a1a" stroke-width="0.8"/>
<path d="M1020.9,280.9 L1023.3,278.5 L1025.7,280.9" fill="none" stroke="#1a1a1a" stroke-width="0.7"/>
<rect x="1004.2" y="293.4" width="1.8" height="7" fill="none" stroke="#1a1a1a" stroke-width="0.6"/>
<rect x="1040.6" y="293.4" width="1.8" height="7" fill="none" stroke="#1a1a1a" stroke-width="0.6"/>
<rect x="1026.3" y="288.1" width="2.6" height="0.9" fill="#222" opacity="0.55"/>
<rect x="1010.4" y="307.4" width="2.6" height="0.9" fill="#222" opacity="0.55"/>
<rect x="1015.8" y="290.4" width="2.6" height="0.9" fill="#222" opacity="0.55"/>
<rect x="1035.8" y="307.4" width="2.6" height="0.9" fill="#222" opacity="0.55"/>
<rect x="1017.8" y="309.7" width="2.6" height="0.9" fill="#222" opacity="0.55"/>
<rect x="1024.3" y="302.4" width="2.6" height="0.9" fill="#222" opacity="0.55"/>
<rect x="1015.6" y="309.2" width="2.6" height="0.9" fill="#222" opacity="0.55"/>
<rect x="1028.2" y="309.9" width="2.6" height="0.9" fill="#222" opacity="0.55"/>
<rect x="1033.5" y="292.5" width="2.6" height="0.9" fill="#222" opacity="0.55"/>
<rect x="1019.7" y="289.1" width="2.6" height="0.9" fill="#222" opacity="0.55"/>
<rect x="1014.1" y="286.5" width="2.6" height="0.9" fill="#222" opacity="0.55"/>
<rect x="1018.1" y="300.4" width="2.6" height="0.9" fill="#222" opacity="0.55"/>
<rect x="1010.4" y="302.4" width="2.6" height="0.9" fill="#222" opacity="0.55"/>
<rect x="1019.1" y="292.8" width="2.6" height="0.9" fill="#222" opacity="0.55"/>
<rect x="966.1" y="229.3" width="2.4" height="36.80000000000001" fill="url(#jetv)"/>
<rect x="1020.9" y="229.6" width="2.4" height="36.400000000000006" fill="url(#jetv)"/>
<rect x="1075.8" y="229.6" width="2.4" height="35.900000000000006" fill="url(#jetv)"/>
<rect x="990.6" y="279.7" width="2.4" height="37.19999999999999" fill="url(#jetv)"/>
<rect x="1046.4" y="279.7" width="2.4" height="37.19999999999999" fill="url(#jetv)"/>
<text x="920" y="223.2" font-size="4.6" textLength="51" lengthAdjust="spacingAndGlyphs" fill="#333">Alpha Power: [−500,−250] ms</text>
<text x="975.3" y="223.2" font-size="4.6" textLength="48.7" lengthAdjust="spacingAndGlyphs" fill="#333">Alpha Power: [−250,000] ms</text>
<text x="1031.9" y="223.2" font-size="4.6" textLength="46" lengthAdjust="spacingAndGlyphs" fill="#333">Alpha Power: [250,400] ms</text>
<text x="945.6" y="274.3" font-size="4.6" textLength="46.8" lengthAdjust="spacingAndGlyphs" fill="#333">Alpha Power: [400,700] ms</text>
<text x="1002.1" y="274.3" font-size="4.6" textLength="47.3" lengthAdjust="spacingAndGlyphs" fill="#333">Alpha Power: [700,1000] ms</text>
<path d="M917.0,406.0 C916.0,392.0 928.0,385.0 936.0,385.0 C948.0,385.0 956.0,394.0 955.0,406.0 C954.0,412.0 946.0,412.8 944.0,418.0 C940.0,424.0 932.0,424.0 930.0,416.8 C924.0,412.8 918.0,412.0 917.0,406.0 Z" fill="#f8f8f8" stroke="#e6e6e6" stroke-width="0.6"/>
<path d="M924.0,396.0 C932.0,394.0 940.0,400.0 950.0,398.0 M922.0,406.0 C932.0,404.0 940.0,408.8 952.0,406.0" fill="none" stroke="#ececec" stroke-width="0.5"/>
<path d="M958.0,406.0 C957.0,394.0 965.0,385.0 977.0,385.0 C985.0,385.0 997.0,392.0 996.0,406.0 C995.0,412.0 989.0,412.8 983.0,416.8 C981.0,424.0 973.0,424.0 969.0,418.0 C967.0,412.8 959.0,412.0 958.0,406.0 Z" fill="#f8f8f8" stroke="#e6e6e6" stroke-width="0.6"/>
<path d="M965.0,396.0 C973.0,394.0 981.0,400.0 991.0,398.0 M963.0,406.0 C973.0,404.0 981.0,408.8 993.0,406.0" fill="none" stroke="#ececec" stroke-width="0.5"/>
<path d="M917.0,447.0 C916.0,433.0 928.0,426.0 936.0,426.0 C948.0,426.0 956.0,435.0 955.0,447.0 C954.0,453.0 946.0,453.8 944.0,459.0 C940.0,465.0 932.0,465.0 930.0,457.8 C924.0,453.8 918.0,453.0 917.0,447.0 Z" fill="#f8f8f8" stroke="#e6e6e6" stroke-width="0.6"/>
<path d="M924.0,437.0 C932.0,435.0 940.0,441.0 950.0,439.0 M922.0,447.0 C932.0,445.0 940.0,449.8 952.0,447.0" fill="none" stroke="#ececec" stroke-width="0.5"/>
<path d="M958.0,447.0 C957.0,435.0 965.0,426.0 977.0,426.0 C985.0,426.0 997.0,433.0 996.0,447.0 C995.0,453.0 989.0,453.8 983.0,457.8 C981.0,465.0 973.0,465.0 969.0,459.0 C967.0,453.8 959.0,453.0 958.0,447.0 Z" fill="#f8f8f8" stroke="#e6e6e6" stroke-width="0.6"/>
<path d="M965.0,437.0 C973.0,435.0 981.0,441.0 991.0,439.0 M963.0,447.0 C973.0,445.0 981.0,449.8 993.0,447.0" fill="none" stroke="#ececec" stroke-width="0.5"/>
<path d="M1003.0,406.0 C1002.0,392.0 1014.0,385.0 1022.0,385.0 C1034.0,385.0 1042.0,394.0 1041.0,406.0 C1040.0,412.0 1032.0,412.8 1030.0,418.0 C1026.0,424.0 1018.0,424.0 1016.0,416.8 C1010.0,412.8 1004.0,412.0 1003.0,406.0 Z" fill="#f8f8f8" stroke="#e6e6e6" stroke-width="0.6"/>
<path d="M1010.0,396.0 C1018.0,394.0 1026.0,400.0 1036.0,398.0 M1008.0,406.0 C1018.0,404.0 1026.0,408.8 1038.0,406.0" fill="none" stroke="#ececec" stroke-width="0.5"/>
<path d="M1044.0,406.0 C1043.0,394.0 1051.0,385.0 1063.0,385.0 C1071.0,385.0 1083.0,392.0 1082.0,406.0 C1081.0,412.0 1075.0,412.8 1069.0,416.8 C1067.0,424.0 1059.0,424.0 1055.0,418.0 C1053.0,412.8 1045.0,412.0 1044.0,406.0 Z" fill="#f8f8f8" stroke="#e6e6e6" stroke-width="0.6"/>
<path d="M1051.0,396.0 C1059.0,394.0 1067.0,400.0 1077.0,398.0 M1049.0,406.0 C1059.0,404.0 1067.0,408.8 1079.0,406.0" fill="none" stroke="#ececec" stroke-width="0.5"/>
<path d="M1003.0,447.0 C1002.0,433.0 1014.0,426.0 1022.0,426.0 C1034.0,426.0 1042.0,435.0 1041.0,447.0 C1040.0,453.0 1032.0,453.8 1030.0,459.0 C1026.0,465.0 1018.0,465.0 1016.0,457.8 C1010.0,453.8 1004.0,453.0 1003.0,447.0 Z" fill="#f8f8f8" stroke="#e6e6e6" stroke-width="0.6"/>
<path d="M1010.0,437.0 C1018.0,435.0 1026.0,441.0 1036.0,439.0 M1008.0,447.0 C1018.0,445.0 1026.0,449.8 1038.0,447.0" fill="none" stroke="#ececec" stroke-width="0.5"/>
<path d="M1044.0,447.0 C1043.0,435.0 1051.0,426.0 1063.0,426.0 C1071.0,426.0 1083.0,433.0 1082.0,447.0 C1081.0,453.0 1075.0,453.8 1069.0,457.8 C1067.0,465.0 1059.0,465.0 1055.0,459.0 C1053.0,453.8 1045.0,453.0 1044.0,447.0 Z" fill="#f8f8f8" stroke="#e6e6e6" stroke-width="0.6"/>
<path d="M1051.0,437.0 C1059.0,435.0 1067.0,441.0 1077.0,439.0 M1049.0,447.0 C1059.0,445.0 1067.0,449.8 1079.0,447.0" fill="none" stroke="#ececec" stroke-width="0.5"/>
<line x1="932.0" y1="389.0" x2="927.1" y2="395.6" stroke="#e0301e" stroke-width="1.6" stroke-linecap="round"/>
<line x1="932.0" y1="389.0" x2="935.0" y2="393.5" stroke="#ec6a22" stroke-width="1.4" stroke-linecap="round"/>
<line x1="927.1" y1="395.6" x2="932.8" y2="400.5" stroke="#e0301e" stroke-width="1.6" stroke-linecap="round"/>
<line x1="927.1" y1="395.6" x2="926.3" y2="406.2" stroke="#e0301e" stroke-width="1.6" stroke-linecap="round"/>
<line x1="932.8" y1="400.5" x2="935.0" y2="393.5" stroke="#e0301e" stroke-width="1.5" stroke-linecap="round"/>
<line x1="926.3" y1="406.2" x2="932.8" y2="400.5" stroke="#ec6a22" stroke-width="1.2" stroke-linecap="round"/>
<line x1="946.0" y1="396.4" x2="942.7" y2="401.3" stroke="#ec6a22" stroke-width="1.3" stroke-linecap="round"/>
<line x1="942.7" y1="401.3" x2="948.4" y2="407.8" stroke="#e0301e" stroke-width="1.5" stroke-linecap="round"/>
<line x1="946.0" y1="396.4" x2="948.4" y2="407.8" stroke="#e0301e" stroke-width="1.5" stroke-linecap="round"/>
<line x1="918.1" y1="404.6" x2="926.3" y2="406.2" stroke="#f2c83a" stroke-width="1.0" stroke-linecap="round"/>
<line x1="926.3" y1="406.2" x2="935.3" y2="407.8" stroke="#b8e070" stroke-width="1.0" stroke-linecap="round"/>
<line x1="935.3" y1="407.8" x2="942.7" y2="401.3" stroke="#b8e070" stroke-width="0.8" stroke-linecap="round"/>
<line x1="918.1" y1="404.6" x2="927.1" y2="395.6" stroke="#b8e070" stroke-width="0.6" stroke-linecap="round"/>
<circle cx="932.0" cy="389.0" r="1.0" fill="#808080"/>
<circle cx="927.1" cy="395.6" r="1.0" fill="#808080"/>
<circle cx="932.8" cy="400.5" r="1.0" fill="#808080"/>
<circle cx="935.0" cy="393.5" r="1.0" fill="#808080"/>
<circle cx="926.3" cy="406.2" r="1.0" fill="#808080"/>
<circle cx="918.1" cy="404.6" r="1.0" fill="#808080"/>
<circle cx="935.3" cy="407.8" r="1.0" fill="#808080"/>
<circle cx="946.0" cy="396.4" r="1.0" fill="#808080"/>
<circle cx="942.7" cy="401.3" r="1.0" fill="#808080"/>
<circle cx="948.4" cy="407.8" r="1.0" fill="#808080"/>
<line x1="963.1" y1="392.3" x2="958.2" y2="405.4" stroke="#e0301e" stroke-width="1.6" stroke-linecap="round"/>
<line x1="963.1" y1="392.3" x2="968.0" y2="400.5" stroke="#ec6a22" stroke-width="1.4" stroke-linecap="round"/>
<line x1="960.7" y1="399.7" x2="965.6" y2="407.8" stroke="#e0301e" stroke-width="1.5" stroke-linecap="round"/>
<line x1="958.2" y1="405.4" x2="965.6" y2="407.8" stroke="#e0301e" stroke-width="1.5" stroke-linecap="round"/>
<line x1="968.0" y1="400.5" x2="965.6" y2="407.8" stroke="#ec6a22" stroke-width="1.4" stroke-linecap="round"/>
<line x1="963.1" y1="392.3" x2="960.7" y2="399.7" stroke="#ec6a22" stroke-width="1.2" stroke-linecap="round"/>
<line x1="958.2" y1="405.4" x2="968.0" y2="400.5" stroke="#c82016" stroke-width="1.2" stroke-linecap="round"/>
<line x1="984.4" y1="395.6" x2="981.1" y2="401.3" stroke="#e0301e" stroke-width="1.5" stroke-linecap="round"/>
<line x1="981.1" y1="401.3" x2="986.0" y2="404.6" stroke="#e0301e" stroke-width="1.5" stroke-linecap="round"/>
<line x1="986.0" y1="404.6" x2="992.6" y2="405.4" stroke="#e0301e" stroke-width="1.4" stroke-linecap="round"/>
<line x1="984.4" y1="395.6" x2="992.6" y2="405.4" stroke="#e0301e" stroke-width="1.5" stroke-linecap="round"/>
<line x1="981.1" y1="401.3" x2="983.6" y2="407.8" stroke="#ec6a22" stroke-width="1.2" stroke-linecap="round"/>
<line x1="973.0" y1="385.7" x2="981.1" y2="389.0" stroke="#f2c83a" stroke-width="1.2" stroke-linecap="round"/>
<line x1="975.4" y1="389.0" x2="963.1" y2="392.3" stroke="#f2c83a" stroke-width="1.0" stroke-linecap="round"/>
<line x1="981.1" y1="389.0" x2="984.4" y2="395.6" stroke="#f2c83a" stroke-width="1.0" stroke-linecap="round"/>
<line x1="968.0" y1="400.5" x2="974.6" y2="409.5" stroke="#b8e070" stroke-width="0.7" stroke-linecap="round"/>
<line x1="974.6" y1="409.5" x2="983.6" y2="407.8" stroke="#b8e070" stroke-width="0.8" stroke-linecap="round"/>
<line x1="965.6" y1="407.8" x2="974.6" y2="409.5" stroke="#f2c83a" stroke-width="0.8" stroke-linecap="round"/>
<circle cx="963.1" cy="392.3" r="1.0" fill="#808080"/>
<circle cx="960.7" cy="399.7" r="1.0" fill="#808080"/>
<circle cx="958.2" cy="405.4" r="1.0" fill="#808080"/>
<circle cx="965.6" cy="407.8" r="1.0" fill="#808080"/>
<circle cx="968.0" cy="400.5" r="1.0" fill="#808080"/>
<circle cx="973.0" cy="385.7" r="1.0" fill="#808080"/>
<circle cx="975.4" cy="389.0" r="1.0" fill="#808080"/>
<circle cx="981.1" cy="389.0" r="1.0" fill="#808080"/>
<circle cx="984.4" cy="395.6" r="1.0" fill="#808080"/>
<circle cx="981.1" cy="401.3" r="1.0" fill="#808080"/>
<circle cx="986.0" cy="404.6" r="1.0" fill="#808080"/>
<circle cx="992.6" cy="405.4" r="1.0" fill="#808080"/>
<circle cx="974.6" cy="409.5" r="1.0" fill="#808080"/>
<circle cx="983.6" cy="407.8" r="1.0" fill="#808080"/>
<line x1="935.3" y1="433.2" x2="944.3" y2="435.7" stroke="#e0301e" stroke-width="1.5" stroke-linecap="round"/>
<line x1="935.3" y1="433.2" x2="941.0" y2="441.4" stroke="#e0301e" stroke-width="1.5" stroke-linecap="round"/>
<line x1="938.6" y1="429.1" x2="944.3" y2="435.7" stroke="#e0301e" stroke-width="1.4" stroke-linecap="round"/>
<line x1="944.3" y1="435.7" x2="941.0" y2="441.4" stroke="#e0301e" stroke-width="1.6" stroke-linecap="round"/>
<line x1="941.0" y1="441.4" x2="944.3" y2="447.1" stroke="#ec6a22" stroke-width="1.4" stroke-linecap="round"/>
<line x1="924.6" y1="436.5" x2="920.5" y2="446.3" stroke="#ec6a22" stroke-width="1.4" stroke-linecap="round"/>
<line x1="920.5" y1="446.3" x2="926.3" y2="449.6" stroke="#e0301e" stroke-width="1.5" stroke-linecap="round"/>
<line x1="924.6" y1="436.5" x2="926.3" y2="449.6" stroke="#ec6a22" stroke-width="1.2" stroke-linecap="round"/>
<line x1="935.3" y1="449.6" x2="952.5" y2="445.5" stroke="#b8e070" stroke-width="1.0" stroke-linecap="round"/>
<line x1="944.3" y1="447.1" x2="952.5" y2="445.5" stroke="#f2c83a" stroke-width="0.9" stroke-linecap="round"/>
<line x1="929.6" y1="429.1" x2="935.3" y2="433.2" stroke="#b8e070" stroke-width="0.6" stroke-linecap="round"/>
<circle cx="929.6" cy="429.1" r="1.0" fill="#808080"/>
<circle cx="938.6" cy="429.1" r="1.0" fill="#808080"/>
<circle cx="924.6" cy="436.5" r="1.0" fill="#808080"/>
<circle cx="935.3" cy="433.2" r="1.0" fill="#808080"/>
<circle cx="944.3" cy="435.7" r="1.0" fill="#808080"/>
<circle cx="941.0" cy="441.4" r="1.0" fill="#808080"/>
<circle cx="920.5" cy="446.3" r="1.0" fill="#808080"/>
<circle cx="926.3" cy="449.6" r="1.0" fill="#808080"/>
<circle cx="935.3" cy="449.6" r="1.0" fill="#808080"/>
<circle cx="944.3" cy="447.1" r="1.0" fill="#808080"/>
<circle cx="952.5" cy="445.5" r="1.0" fill="#808080"/>
<line x1="966.4" y1="436.5" x2="959.8" y2="444.7" stroke="#ec6a22" stroke-width="1.5" stroke-linecap="round"/>
<line x1="966.4" y1="436.5" x2="970.5" y2="440.6" stroke="#ec6a22" stroke-width="1.4" stroke-linecap="round"/>
<line x1="959.8" y1="444.7" x2="964.8" y2="448.0" stroke="#e0301e" stroke-width="1.5" stroke-linecap="round"/>
<line x1="970.5" y1="440.6" x2="964.8" y2="448.0" stroke="#e0301e" stroke-width="1.4" stroke-linecap="round"/>
<line x1="959.8" y1="444.7" x2="970.5" y2="440.6" stroke="#ec6a22" stroke-width="1.3" stroke-linecap="round"/>
<line x1="981.1" y1="429.1" x2="982.8" y2="445.5" stroke="#e0301e" stroke-width="1.5" stroke-linecap="round"/>
<line x1="984.4" y1="433.2" x2="989.3" y2="444.7" stroke="#e0301e" stroke-width="1.5" stroke-linecap="round"/>
<line x1="982.8" y1="445.5" x2="986.0" y2="449.6" stroke="#e0301e" stroke-width="1.4" stroke-linecap="round"/>
<line x1="989.3" y1="444.7" x2="986.0" y2="449.6" stroke="#e0301e" stroke-width="1.5" stroke-linecap="round"/>
<line x1="980.3" y1="436.5" x2="986.0" y2="449.6" stroke="#ec6a22" stroke-width="1.3" stroke-linecap="round"/>
<line x1="984.4" y1="433.2" x2="982.8" y2="445.5" stroke="#ec6a22" stroke-width="1.2" stroke-linecap="round"/>
<line x1="975.4" y1="425.8" x2="969.7" y2="429.1" stroke="#f2c83a" stroke-width="1.1" stroke-linecap="round"/>
<line x1="969.7" y1="429.1" x2="966.4" y2="436.5" stroke="#f2c83a" stroke-width="1.0" stroke-linecap="round"/>
<line x1="970.5" y1="440.6" x2="974.6" y2="450.4" stroke="#b8e070" stroke-width="0.7" stroke-linecap="round"/>
<line x1="974.6" y1="450.4" x2="982.8" y2="445.5" stroke="#b8e070" stroke-width="0.7" stroke-linecap="round"/>
<circle cx="975.4" cy="425.8" r="1.0" fill="#808080"/>
<circle cx="969.7" cy="429.1" r="1.0" fill="#808080"/>
<circle cx="981.1" cy="429.1" r="1.0" fill="#808080"/>
<circle cx="966.4" cy="436.5" r="1.0" fill="#808080"/>
<circle cx="970.5" cy="440.6" r="1.0" fill="#808080"/>
<circle cx="959.8" cy="444.7" r="1.0" fill="#808080"/>
<circle cx="964.8" cy="448.0" r="1.0" fill="#808080"/>
<circle cx="974.6" cy="450.4" r="1.0" fill="#808080"/>
<circle cx="984.4" cy="433.2" r="1.0" fill="#808080"/>
<circle cx="982.8" cy="445.5" r="1.0" fill="#808080"/>
<circle cx="989.3" cy="444.7" r="1.0" fill="#808080"/>
<circle cx="986.0" cy="449.6" r="1.0" fill="#808080"/>
<circle cx="980.3" cy="436.5" r="1.0" fill="#808080"/>
<line x1="1038.3" y1="401.5" x2="1028.9" y2="391.6" stroke="#f2c83a" stroke-width="1.4" stroke-linecap="round"/>
<line x1="1035.0" y1="397.0" x2="1029.2" y2="404.2" stroke="#f2c83a" stroke-width="1.4" stroke-linecap="round"/>
<line x1="1038.3" y1="401.5" x2="1029.2" y2="404.2" stroke="#ec6a22" stroke-width="1.8" stroke-linecap="round"/>
<line x1="1032.4" y1="391.6" x2="1022.7" y2="406.3" stroke="#c82016" stroke-width="1.5" stroke-linecap="round"/>
<line x1="1019.5" y1="388.7" x2="1029.2" y2="404.2" stroke="#ec6a22" stroke-width="1.2" stroke-linecap="round"/>
<line x1="1006.4" y1="394.2" x2="1012.0" y2="406.3" stroke="#f2c83a" stroke-width="1.0" stroke-linecap="round"/>
<line x1="1010.2" y1="390.1" x2="1002.2" y2="401.7" stroke="#ec6a22" stroke-width="1.3" stroke-linecap="round"/>
<line x1="1035.0" y1="397.0" x2="1029.2" y2="404.2" stroke="#f2c83a" stroke-width="1.5" stroke-linecap="round"/>
<line x1="1026.0" y1="390.6" x2="1017.0" y2="406.0" stroke="#ec6a22" stroke-width="1.9" stroke-linecap="round"/>
<line x1="1006.4" y1="394.2" x2="1006.3" y2="393.9" stroke="#c82016" stroke-width="1.4" stroke-linecap="round"/>
<line x1="1028.9" y1="391.6" x2="1026.0" y2="390.6" stroke="#ec6a22" stroke-width="1.6" stroke-linecap="round"/>
<line x1="1032.4" y1="391.6" x2="1033.3" y2="404.5" stroke="#f2c83a" stroke-width="1.9" stroke-linecap="round"/>
<line x1="1035.0" y1="397.0" x2="1033.3" y2="404.5" stroke="#f2c83a" stroke-width="1.8" stroke-linecap="round"/>
<line x1="1035.0" y1="397.0" x2="1022.7" y2="406.3" stroke="#e0301e" stroke-width="1.5" stroke-linecap="round"/>
<line x1="1017.0" y1="406.0" x2="1026.0" y2="390.6" stroke="#f2c83a" stroke-width="1.5" stroke-linecap="round"/>
<line x1="1022.4" y1="387.7" x2="1028.9" y2="391.6" stroke="#f2c83a" stroke-width="1.9" stroke-linecap="round"/>
<line x1="1017.0" y1="406.0" x2="1028.9" y2="391.6" stroke="#f0e050" stroke-width="1.2" stroke-linecap="round"/>
<line x1="1038.3" y1="401.5" x2="1029.2" y2="404.2" stroke="#f2c83a" stroke-width="0.9" stroke-linecap="round"/>
<line x1="1033.3" y1="404.5" x2="1029.2" y2="404.2" stroke="#ec6a22" stroke-width="1.0" stroke-linecap="round"/>
<line x1="1035.1" y1="395.7" x2="1033.3" y2="404.5" stroke="#c82016" stroke-width="1.6" stroke-linecap="round"/>
<line x1="1012.0" y1="406.3" x2="1002.2" y2="401.7" stroke="#c82016" stroke-width="1.0" stroke-linecap="round"/>
<line x1="1028.9" y1="391.6" x2="1029.2" y2="404.2" stroke="#c82016" stroke-width="1.2" stroke-linecap="round"/>
<line x1="1035.1" y1="395.7" x2="1016.5" y2="389.4" stroke="#f2c83a" stroke-width="1.7" stroke-linecap="round"/>
<line x1="1033.3" y1="404.5" x2="1026.0" y2="390.6" stroke="#ec6a22" stroke-width="1.7" stroke-linecap="round"/>
<line x1="1006.3" y1="393.9" x2="1002.2" y2="401.7" stroke="#c82016" stroke-width="1.6" stroke-linecap="round"/>
<line x1="1010.2" y1="390.1" x2="1028.9" y2="391.6" stroke="#f0e050" stroke-width="1.1" stroke-linecap="round"/>
<line x1="1026.0" y1="390.6" x2="1022.4" y2="387.7" stroke="#f2c83a" stroke-width="1.1" stroke-linecap="round"/>
<line x1="1032.4" y1="391.6" x2="1022.4" y2="387.7" stroke="#f2c83a" stroke-width="1.7" stroke-linecap="round"/>
<line x1="1016.5" y1="389.4" x2="1006.4" y2="394.2" stroke="#f2c83a" stroke-width="1.6" stroke-linecap="round"/>
<line x1="1019.5" y1="388.7" x2="1029.2" y2="404.2" stroke="#f2c83a" stroke-width="1.2" stroke-linecap="round"/>
<line x1="1006.3" y1="393.9" x2="1003.7" y2="398.7" stroke="#f0e050" stroke-width="1.9" stroke-linecap="round"/>
<line x1="1032.4" y1="391.6" x2="1029.2" y2="404.2" stroke="#ec6a22" stroke-width="1.8" stroke-linecap="round"/>
<line x1="1033.3" y1="404.5" x2="1035.1" y2="395.7" stroke="#c82016" stroke-width="1.0" stroke-linecap="round"/>
<line x1="1028.9" y1="391.6" x2="1017.0" y2="406.0" stroke="#ec6a22" stroke-width="1.4" stroke-linecap="round"/>
<line x1="1038.3" y1="401.5" x2="1028.9" y2="391.6" stroke="#f2c83a" stroke-width="1.5" stroke-linecap="round"/>
<line x1="1010.2" y1="390.1" x2="1019.5" y2="388.7" stroke="#e0301e" stroke-width="1.4" stroke-linecap="round"/>
<line x1="1006.4" y1="406.2" x2="1012.0" y2="406.3" stroke="#e0301e" stroke-width="1.9" stroke-linecap="round"/>
<line x1="1012.0" y1="406.3" x2="1017.0" y2="406.0" stroke="#e0301e" stroke-width="1.9" stroke-linecap="round"/>
<line x1="1017.0" y1="406.0" x2="1022.7" y2="406.3" stroke="#f2c83a" stroke-width="1.9" stroke-linecap="round"/>
<line x1="1022.7" y1="406.3" x2="1029.2" y2="404.2" stroke="#e0301e" stroke-width="1.9" stroke-linecap="round"/>
<line x1="1029.2" y1="404.2" x2="1033.3" y2="404.5" stroke="#e0301e" stroke-width="1.9" stroke-linecap="round"/>
<circle cx="1002.2" cy="401.7" r="1.0" fill="#808080"/>
<circle cx="1003.7" cy="398.7" r="1.0" fill="#808080"/>
<circle cx="1006.4" cy="394.2" r="1.0" fill="#808080"/>
<circle cx="1006.3" cy="393.9" r="1.0" fill="#808080"/>
<circle cx="1010.2" cy="390.1" r="1.0" fill="#808080"/>
<circle cx="1016.5" cy="389.4" r="1.0" fill="#808080"/>
<circle cx="1019.5" cy="388.7" r="1.0" fill="#808080"/>
<circle cx="1022.4" cy="387.7" r="1.0" fill="#808080"/>
<circle cx="1026.0" cy="390.6" r="1.0" fill="#808080"/>
<circle cx="1028.9" cy="391.6" r="1.0" fill="#808080"/>
<circle cx="1032.4" cy="391.6" r="1.0" fill="#808080"/>
<circle cx="1035.1" cy="395.7" r="1.0" fill="#808080"/>
<circle cx="1035.0" cy="397.0" r="1.0" fill="#808080"/>
<circle cx="1038.3" cy="401.5" r="1.0" fill="#808080"/>
<circle cx="1006.4" cy="406.2" r="1.0" fill="#808080"/>
<circle cx="1012.0" cy="406.3" r="1.0" fill="#808080"/>
<circle cx="1017.0" cy="406.0" r="1.0" fill="#808080"/>
<circle cx="1022.7" cy="406.3" r="1.0" fill="#808080"/>
<circle cx="1029.2" cy="404.2" r="1.0" fill="#808080"/>
<circle cx="1033.3" cy="404.5" r="1.0" fill="#808080"/>
<line x1="1060.1" y1="406.2" x2="1058.8" y2="387.6" stroke="#f2c83a" stroke-width="1.3" stroke-linecap="round"/>
<line x1="1072.0" y1="390.0" x2="1079.2" y2="402.1" stroke="#f2c83a" stroke-width="1.1" stroke-linecap="round"/>
<line x1="1072.0" y1="390.0" x2="1068.8" y2="390.4" stroke="#e0301e" stroke-width="1.0" stroke-linecap="round"/>
<line x1="1060.1" y1="406.2" x2="1064.9" y2="404.8" stroke="#f2c83a" stroke-width="1.6" stroke-linecap="round"/>
<line x1="1054.3" y1="390.1" x2="1058.8" y2="387.6" stroke="#e0301e" stroke-width="1.3" stroke-linecap="round"/>
<line x1="1058.8" y1="387.6" x2="1048.0" y2="404.4" stroke="#ec6a22" stroke-width="1.1" stroke-linecap="round"/>
<line x1="1079.2" y1="402.1" x2="1071.2" y2="405.4" stroke="#f2c83a" stroke-width="1.5" stroke-linecap="round"/>
<line x1="1058.8" y1="387.6" x2="1073.0" y2="393.3" stroke="#e0301e" stroke-width="1.7" stroke-linecap="round"/>
<line x1="1062.7" y1="390.1" x2="1068.8" y2="390.4" stroke="#c82016" stroke-width="1.5" stroke-linecap="round"/>
<line x1="1062.7" y1="390.1" x2="1051.9" y2="393.8" stroke="#f2c83a" stroke-width="1.8" stroke-linecap="round"/>
<line x1="1044.2" y1="400.4" x2="1045.8" y2="397.4" stroke="#f2c83a" stroke-width="1.6" stroke-linecap="round"/>
<line x1="1072.0" y1="390.0" x2="1073.0" y2="393.3" stroke="#e0301e" stroke-width="1.2" stroke-linecap="round"/>
<line x1="1073.0" y1="393.3" x2="1054.3" y2="390.1" stroke="#f2c83a" stroke-width="1.8" stroke-linecap="round"/>
<line x1="1072.0" y1="390.0" x2="1058.8" y2="387.6" stroke="#f2c83a" stroke-width="1.2" stroke-linecap="round"/>
<line x1="1068.8" y1="390.4" x2="1079.3" y2="397.2" stroke="#c82016" stroke-width="1.9" stroke-linecap="round"/>
<line x1="1073.0" y1="393.3" x2="1071.2" y2="405.4" stroke="#e0301e" stroke-width="1.3" stroke-linecap="round"/>
<line x1="1048.0" y1="404.4" x2="1056.7" y2="388.8" stroke="#f2c83a" stroke-width="1.7" stroke-linecap="round"/>
<line x1="1077.0" y1="396.5" x2="1072.0" y2="390.0" stroke="#c82016" stroke-width="1.0" stroke-linecap="round"/>
<line x1="1058.8" y1="387.6" x2="1051.9" y2="393.8" stroke="#e0301e" stroke-width="1.0" stroke-linecap="round"/>
<line x1="1056.7" y1="388.8" x2="1054.3" y2="390.1" stroke="#c82016" stroke-width="0.9" stroke-linecap="round"/>
<line x1="1053.5" y1="404.2" x2="1071.2" y2="405.4" stroke="#ec6a22" stroke-width="1.2" stroke-linecap="round"/>
<line x1="1045.8" y1="397.4" x2="1051.9" y2="393.8" stroke="#f0e050" stroke-width="1.2" stroke-linecap="round"/>
<line x1="1053.5" y1="404.2" x2="1058.8" y2="387.6" stroke="#ec6a22" stroke-width="1.3" stroke-linecap="round"/>
<line x1="1053.5" y1="404.2" x2="1045.8" y2="397.4" stroke="#ec6a22" stroke-width="1.3" stroke-linecap="round"/>
<line x1="1062.7" y1="390.1" x2="1079.2" y2="402.1" stroke="#ec6a22" stroke-width="1.4" stroke-linecap="round"/>
<line x1="1068.8" y1="390.4" x2="1076.8" y2="406.1" stroke="#ec6a22" stroke-width="1.4" stroke-linecap="round"/>
<line x1="1062.7" y1="390.1" x2="1079.2" y2="402.1" stroke="#ec6a22" stroke-width="1.0" stroke-linecap="round"/>
<line x1="1071.2" y1="405.4" x2="1079.3" y2="397.2" stroke="#e0301e" stroke-width="1.4" stroke-linecap="round"/>
<line x1="1058.8" y1="387.6" x2="1071.2" y2="405.4" stroke="#ec6a22" stroke-width="1.2" stroke-linecap="round"/>
<line x1="1079.2" y1="402.1" x2="1060.1" y2="406.2" stroke="#ec6a22" stroke-width="1.6" stroke-linecap="round"/>
<line x1="1068.8" y1="390.4" x2="1073.0" y2="393.3" stroke="#f2c83a" stroke-width="1.9" stroke-linecap="round"/>
<line x1="1058.8" y1="387.6" x2="1045.8" y2="397.4" stroke="#f2c83a" stroke-width="1.8" stroke-linecap="round"/>
<line x1="1054.3" y1="390.1" x2="1068.8" y2="390.4" stroke="#e0301e" stroke-width="1.8" stroke-linecap="round"/>
<line x1="1044.2" y1="400.4" x2="1058.8" y2="387.6" stroke="#ec6a22" stroke-width="0.9" stroke-linecap="round"/>
<line x1="1068.8" y1="390.4" x2="1051.9" y2="393.8" stroke="#f2c83a" stroke-width="1.7" stroke-linecap="round"/>
<line x1="1079.3" y1="397.2" x2="1062.7" y2="390.1" stroke="#f0e050" stroke-width="1.0" stroke-linecap="round"/>
<line x1="1048.0" y1="404.4" x2="1053.5" y2="404.2" stroke="#ec6a22" stroke-width="1.9" stroke-linecap="round"/>
<line x1="1053.5" y1="404.2" x2="1060.1" y2="406.2" stroke="#ec6a22" stroke-width="1.9" stroke-linecap="round"/>
<line x1="1060.1" y1="406.2" x2="1064.9" y2="404.8" stroke="#e0301e" stroke-width="1.9" stroke-linecap="round"/>
<line x1="1064.9" y1="404.8" x2="1071.2" y2="405.4" stroke="#e0301e" stroke-width="1.9" stroke-linecap="round"/>
<line x1="1071.2" y1="405.4" x2="1076.8" y2="406.1" stroke="#f2c83a" stroke-width="1.9" stroke-linecap="round"/>
<circle cx="1044.2" cy="400.4" r="1.0" fill="#808080"/>
<circle cx="1045.8" cy="397.4" r="1.0" fill="#808080"/>
<circle cx="1046.2" cy="395.2" r="1.0" fill="#808080"/>
<circle cx="1051.9" cy="393.8" r="1.0" fill="#808080"/>
<circle cx="1054.3" cy="390.1" r="1.0" fill="#808080"/>
<circle cx="1056.7" cy="388.8" r="1.0" fill="#808080"/>
<circle cx="1058.8" cy="387.6" r="1.0" fill="#808080"/>
<circle cx="1062.7" cy="390.1" r="1.0" fill="#808080"/>
<circle cx="1068.8" cy="390.4" r="1.0" fill="#808080"/>
<circle cx="1072.0" cy="390.0" r="1.0" fill="#808080"/>
<circle cx="1073.0" cy="393.3" r="1.0" fill="#808080"/>
<circle cx="1077.0" cy="396.5" r="1.0" fill="#808080"/>
<circle cx="1079.3" cy="397.2" r="1.0" fill="#808080"/>
<circle cx="1079.2" cy="402.1" r="1.0" fill="#808080"/>
<circle cx="1048.0" cy="404.4" r="1.0" fill="#808080"/>
<circle cx="1053.5" cy="404.2" r="1.0" fill="#808080"/>
<circle cx="1060.1" cy="406.2" r="1.0" fill="#808080"/>
<circle cx="1064.9" cy="404.8" r="1.0" fill="#808080"/>
<circle cx="1071.2" cy="405.4" r="1.0" fill="#808080"/>
<circle cx="1076.8" cy="406.1" r="1.0" fill="#808080"/>
<line x1="1018.1" y1="447.5" x2="1004.4" y2="443.6" stroke="#f2c83a" stroke-width="1.1" stroke-linecap="round"/>
<line x1="1038.0" y1="442.4" x2="1030.0" y2="431.2" stroke="#f2c83a" stroke-width="1.5" stroke-linecap="round"/>
<line x1="1003.9" y1="436.9" x2="1018.1" y2="447.5" stroke="#f0e050" stroke-width="1.1" stroke-linecap="round"/>
<line x1="1034.8" y1="447.3" x2="1024.2" y2="430.7" stroke="#ec6a22" stroke-width="1.6" stroke-linecap="round"/>
<line x1="1022.0" y1="430.3" x2="1010.7" y2="432.7" stroke="#c82016" stroke-width="1.1" stroke-linecap="round"/>
<line x1="1018.1" y1="447.5" x2="1004.4" y2="443.6" stroke="#ec6a22" stroke-width="1.7" stroke-linecap="round"/>
<line x1="1022.2" y1="447.6" x2="1030.0" y2="431.2" stroke="#f2c83a" stroke-width="1.3" stroke-linecap="round"/>
<line x1="1034.2" y1="440.3" x2="1030.0" y2="431.2" stroke="#ec6a22" stroke-width="1.6" stroke-linecap="round"/>
<line x1="1011.9" y1="446.7" x2="1004.1" y2="438.7" stroke="#ec6a22" stroke-width="1.3" stroke-linecap="round"/>
<line x1="1003.9" y1="436.9" x2="1005.2" y2="446.5" stroke="#f2c83a" stroke-width="1.7" stroke-linecap="round"/>
<line x1="1018.1" y1="447.5" x2="1038.0" y2="442.4" stroke="#f2c83a" stroke-width="1.2" stroke-linecap="round"/>
<line x1="1019.1" y1="429.5" x2="1024.2" y2="430.7" stroke="#f2c83a" stroke-width="1.4" stroke-linecap="round"/>
<line x1="1013.6" y1="431.4" x2="1004.4" y2="443.6" stroke="#e0301e" stroke-width="1.4" stroke-linecap="round"/>
<line x1="1024.2" y1="430.7" x2="1028.1" y2="448.3" stroke="#f2c83a" stroke-width="1.1" stroke-linecap="round"/>
<line x1="1018.1" y1="447.5" x2="1005.2" y2="446.5" stroke="#f2c83a" stroke-width="1.8" stroke-linecap="round"/>
<line x1="1024.2" y1="430.7" x2="1038.0" y2="442.4" stroke="#f2c83a" stroke-width="1.5" stroke-linecap="round"/>
<line x1="1024.2" y1="430.7" x2="1011.9" y2="446.7" stroke="#f2c83a" stroke-width="1.4" stroke-linecap="round"/>
<line x1="1032.9" y1="434.5" x2="1035.5" y2="436.0" stroke="#ec6a22" stroke-width="1.9" stroke-linecap="round"/>
<line x1="1034.8" y1="447.3" x2="1034.2" y2="440.3" stroke="#c82016" stroke-width="1.2" stroke-linecap="round"/>
<line x1="1013.6" y1="431.4" x2="1030.0" y2="431.2" stroke="#f0e050" stroke-width="0.9" stroke-linecap="round"/>
<line x1="1005.2" y1="446.5" x2="1004.1" y2="438.7" stroke="#ec6a22" stroke-width="0.9" stroke-linecap="round"/>
<line x1="1035.5" y1="436.0" x2="1034.8" y2="447.3" stroke="#f2c83a" stroke-width="1.8" stroke-linecap="round"/>
<line x1="1004.1" y1="438.7" x2="1019.1" y2="429.5" stroke="#ec6a22" stroke-width="1.8" stroke-linecap="round"/>
<line x1="1038.0" y1="442.4" x2="1018.1" y2="447.5" stroke="#f2c83a" stroke-width="1.0" stroke-linecap="round"/>
<line x1="1022.0" y1="430.3" x2="1008.2" y2="434.7" stroke="#f2c83a" stroke-width="1.3" stroke-linecap="round"/>
<line x1="1010.7" y1="432.7" x2="1022.0" y2="430.3" stroke="#c82016" stroke-width="1.2" stroke-linecap="round"/>
<line x1="1004.1" y1="438.7" x2="1008.2" y2="434.7" stroke="#e0301e" stroke-width="0.9" stroke-linecap="round"/>
<line x1="1011.9" y1="446.7" x2="1005.2" y2="446.5" stroke="#e0301e" stroke-width="1.5" stroke-linecap="round"/>
<line x1="1022.2" y1="447.6" x2="1010.7" y2="432.7" stroke="#c82016" stroke-width="1.7" stroke-linecap="round"/>
<line x1="1003.9" y1="436.9" x2="1013.6" y2="431.4" stroke="#c82016" stroke-width="1.5" stroke-linecap="round"/>
<line x1="1011.9" y1="446.7" x2="1004.4" y2="443.6" stroke="#ec6a22" stroke-width="1.7" stroke-linecap="round"/>
<line x1="1019.1" y1="429.5" x2="1005.2" y2="446.5" stroke="#f2c83a" stroke-width="1.7" stroke-linecap="round"/>
<line x1="1005.2" y1="446.5" x2="1022.2" y2="447.6" stroke="#ec6a22" stroke-width="1.4" stroke-linecap="round"/>
<line x1="1030.0" y1="431.2" x2="1035.5" y2="436.0" stroke="#ec6a22" stroke-width="1.3" stroke-linecap="round"/>
<line x1="1004.1" y1="438.7" x2="1003.9" y2="436.9" stroke="#f0e050" stroke-width="1.8" stroke-linecap="round"/>
<line x1="1024.2" y1="430.7" x2="1034.8" y2="447.3" stroke="#f2c83a" stroke-width="1.3" stroke-linecap="round"/>
<line x1="1005.2" y1="446.5" x2="1011.9" y2="446.7" stroke="#f2c83a" stroke-width="1.9" stroke-linecap="round"/>
<line x1="1011.9" y1="446.7" x2="1018.1" y2="447.5" stroke="#ec6a22" stroke-width="1.9" stroke-linecap="round"/>
<line x1="1018.1" y1="447.5" x2="1022.2" y2="447.6" stroke="#e0301e" stroke-width="1.9" stroke-linecap="round"/>
<line x1="1022.2" y1="447.6" x2="1028.1" y2="448.3" stroke="#ec6a22" stroke-width="1.9" stroke-linecap="round"/>
<line x1="1028.1" y1="448.3" x2="1034.8" y2="447.3" stroke="#ec6a22" stroke-width="1.9" stroke-linecap="round"/>
<circle cx="1004.4" cy="443.6" r="1.0" fill="#808080"/>
<circle cx="1004.1" cy="438.7" r="1.0" fill="#808080"/>
<circle cx="1003.9" cy="436.9" r="1.0" fill="#808080"/>
<circle cx="1008.2" cy="434.7" r="1.0" fill="#808080"/>
<circle cx="1010.7" cy="432.7" r="1.0" fill="#808080"/>
<circle cx="1013.6" cy="431.4" r="1.0" fill="#808080"/>
<circle cx="1019.1" cy="429.5" r="1.0" fill="#808080"/>
<circle cx="1022.0" cy="430.3" r="1.0" fill="#808080"/>
<circle cx="1024.2" cy="430.7" r="1.0" fill="#808080"/>
<circle cx="1030.0" cy="431.2" r="1.0" fill="#808080"/>
<circle cx="1032.9" cy="434.5" r="1.0" fill="#808080"/>
<circle cx="1035.5" cy="436.0" r="1.0" fill="#808080"/>
<circle cx="1034.2" cy="440.3" r="1.0" fill="#808080"/>
<circle cx="1038.0" cy="442.4" r="1.0" fill="#808080"/>
<circle cx="1005.2" cy="446.5" r="1.0" fill="#808080"/>
<circle cx="1011.9" cy="446.7" r="1.0" fill="#808080"/>
<circle cx="1018.1" cy="447.5" r="1.0" fill="#808080"/>
<circle cx="1022.2" cy="447.6" r="1.0" fill="#808080"/>
<circle cx="1028.1" cy="448.3" r="1.0" fill="#808080"/>
<circle cx="1034.8" cy="447.3" r="1.0" fill="#808080"/>
<line x1="1070.4" y1="433.1" x2="1064.1" y2="446.2" stroke="#f2c83a" stroke-width="1.8" stroke-linecap="round"/>
<line x1="1056.4" y1="430.5" x2="1052.3" y2="433.1" stroke="#f0e050" stroke-width="1.6" stroke-linecap="round"/>
<line x1="1060.0" y1="447.5" x2="1058.9" y2="430.8" stroke="#ec6a22" stroke-width="1.1" stroke-linecap="round"/>
<line x1="1060.0" y1="447.5" x2="1070.4" y2="433.1" stroke="#f0e050" stroke-width="1.6" stroke-linecap="round"/>
<line x1="1060.0" y1="447.5" x2="1064.1" y2="446.2" stroke="#ec6a22" stroke-width="1.2" stroke-linecap="round"/>
<line x1="1073.2" y1="432.8" x2="1062.2" y2="429.0" stroke="#ec6a22" stroke-width="0.9" stroke-linecap="round"/>
<line x1="1065.5" y1="429.8" x2="1076.1" y2="439.8" stroke="#ec6a22" stroke-width="1.7" stroke-linecap="round"/>
<line x1="1056.4" y1="430.5" x2="1044.1" y2="444.0" stroke="#ec6a22" stroke-width="1.9" stroke-linecap="round"/>
<line x1="1056.4" y1="430.5" x2="1070.4" y2="433.1" stroke="#e0301e" stroke-width="0.9" stroke-linecap="round"/>
<line x1="1076.1" y1="439.8" x2="1073.2" y2="432.8" stroke="#ec6a22" stroke-width="1.5" stroke-linecap="round"/>
<line x1="1062.2" y1="429.0" x2="1053.8" y2="431.8" stroke="#f2c83a" stroke-width="1.5" stroke-linecap="round"/>
<line x1="1078.3" y1="443.1" x2="1075.4" y2="448.4" stroke="#e0301e" stroke-width="1.5" stroke-linecap="round"/>
<line x1="1070.4" y1="433.1" x2="1052.3" y2="433.1" stroke="#e0301e" stroke-width="1.0" stroke-linecap="round"/>
<line x1="1052.3" y1="433.1" x2="1060.0" y2="447.5" stroke="#f0e050" stroke-width="1.3" stroke-linecap="round"/>
<line x1="1060.0" y1="447.5" x2="1053.6" y2="447.6" stroke="#ec6a22" stroke-width="1.9" stroke-linecap="round"/>
<line x1="1046.2" y1="435.7" x2="1058.9" y2="430.8" stroke="#e0301e" stroke-width="1.8" stroke-linecap="round"/>
<line x1="1073.2" y1="432.8" x2="1076.1" y2="439.8" stroke="#c82016" stroke-width="1.0" stroke-linecap="round"/>
<line x1="1070.4" y1="433.1" x2="1075.1" y2="437.9" stroke="#f2c83a" stroke-width="1.9" stroke-linecap="round"/>
<line x1="1044.1" y1="444.0" x2="1053.6" y2="447.6" stroke="#ec6a22" stroke-width="1.0" stroke-linecap="round"/>
<line x1="1056.4" y1="430.5" x2="1073.2" y2="432.8" stroke="#f2c83a" stroke-width="1.3" stroke-linecap="round"/>
<line x1="1046.2" y1="435.7" x2="1058.9" y2="430.8" stroke="#c82016" stroke-width="1.1" stroke-linecap="round"/>
<line x1="1053.6" y1="447.6" x2="1053.8" y2="431.8" stroke="#f2c83a" stroke-width="1.0" stroke-linecap="round"/>
<line x1="1053.8" y1="431.8" x2="1047.7" y2="447.7" stroke="#f0e050" stroke-width="1.6" stroke-linecap="round"/>
<line x1="1053.6" y1="447.6" x2="1071.3" y2="447.2" stroke="#f2c83a" stroke-width="1.7" stroke-linecap="round"/>
<line x1="1044.7" y1="440.0" x2="1058.9" y2="430.8" stroke="#e0301e" stroke-width="1.3" stroke-linecap="round"/>
<line x1="1052.3" y1="433.1" x2="1058.9" y2="430.8" stroke="#e0301e" stroke-width="1.6" stroke-linecap="round"/>
<line x1="1075.1" y1="437.9" x2="1078.3" y2="443.1" stroke="#f0e050" stroke-width="1.0" stroke-linecap="round"/>
<line x1="1075.4" y1="448.4" x2="1060.0" y2="447.5" stroke="#c82016" stroke-width="1.1" stroke-linecap="round"/>
<line x1="1062.2" y1="429.0" x2="1073.2" y2="432.8" stroke="#f0e050" stroke-width="1.3" stroke-linecap="round"/>
<line x1="1060.0" y1="447.5" x2="1058.9" y2="430.8" stroke="#e0301e" stroke-width="1.2" stroke-linecap="round"/>
<line x1="1073.2" y1="432.8" x2="1076.1" y2="439.8" stroke="#ec6a22" stroke-width="1.5" stroke-linecap="round"/>
<line x1="1046.2" y1="435.7" x2="1064.1" y2="446.2" stroke="#f2c83a" stroke-width="1.9" stroke-linecap="round"/>
<line x1="1075.1" y1="437.9" x2="1073.2" y2="432.8" stroke="#f0e050" stroke-width="1.2" stroke-linecap="round"/>
<line x1="1075.1" y1="437.9" x2="1070.4" y2="433.1" stroke="#e0301e" stroke-width="1.1" stroke-linecap="round"/>
<line x1="1075.1" y1="437.9" x2="1076.1" y2="439.8" stroke="#c82016" stroke-width="1.7" stroke-linecap="round"/>
<line x1="1070.4" y1="433.1" x2="1058.9" y2="430.8" stroke="#ec6a22" stroke-width="1.3" stroke-linecap="round"/>
<line x1="1047.7" y1="447.7" x2="1053.6" y2="447.6" stroke="#f2c83a" stroke-width="1.9" stroke-linecap="round"/>
<line x1="1053.6" y1="447.6" x2="1060.0" y2="447.5" stroke="#e0301e" stroke-width="1.9" stroke-linecap="round"/>
<line x1="1060.0" y1="447.5" x2="1064.1" y2="446.2" stroke="#e0301e" stroke-width="1.9" stroke-linecap="round"/>
<line x1="1064.1" y1="446.2" x2="1071.3" y2="447.2" stroke="#e0301e" stroke-width="1.9" stroke-linecap="round"/>
<line x1="1071.3" y1="447.2" x2="1075.4" y2="448.4" stroke="#e0301e" stroke-width="1.9" stroke-linecap="round"/>
<circle cx="1044.1" cy="444.0" r="1.0" fill="#808080"/>
<circle cx="1044.7" cy="440.0" r="1.0" fill="#808080"/>
<circle cx="1046.2" cy="435.7" r="1.0" fill="#808080"/>
<circle cx="1052.3" cy="433.1" r="1.0" fill="#808080"/>
<circle cx="1053.8" cy="431.8" r="1.0" fill="#808080"/>
<circle cx="1056.4" cy="430.5" r="1.0" fill="#808080"/>
<circle cx="1058.9" cy="430.8" r="1.0" fill="#808080"/>
<circle cx="1062.2" cy="429.0" r="1.0" fill="#808080"/>
<circle cx="1065.5" cy="429.8" r="1.0" fill="#808080"/>
<circle cx="1070.4" cy="433.1" r="1.0" fill="#808080"/>
<circle cx="1073.2" cy="432.8" r="1.0" fill="#808080"/>
<circle cx="1075.1" cy="437.9" r="1.0" fill="#808080"/>
<circle cx="1076.1" cy="439.8" r="1.0" fill="#808080"/>
<circle cx="1078.3" cy="443.1" r="1.0" fill="#808080"/>
<circle cx="1047.7" cy="447.7" r="1.0" fill="#808080"/>
<circle cx="1053.6" cy="447.6" r="1.0" fill="#808080"/>
<circle cx="1060.0" cy="447.5" r="1.0" fill="#808080"/>
<circle cx="1064.1" cy="446.2" r="1.0" fill="#808080"/>
<circle cx="1071.3" cy="447.2" r="1.0" fill="#808080"/>
<circle cx="1075.4" cy="448.4" r="1.0" fill="#808080"/>
<rect x="946.7" y="463.4" width="16.5" height="2.4" fill="url(#jeth)"/>
<rect x="1033.3" y="463.4" width="16.5" height="2.4" fill="url(#jeth)"/>
<text x="917" y="389" font-size="4" fill="#333">L</text>
<text x="991.5" y="389" font-size="4" fill="#333">R</text>
<text x="1004" y="389" font-size="4" fill="#333">L</text>
<text x="1078.5" y="389" font-size="4" fill="#333">R</text>

<!-- ===== PROCEDURE ===== -->
<line x1="35.5" y1="287.1" x2="208.4" y2="262.4" stroke="#2a2a2a" stroke-width="1.8" stroke-dasharray="9.8 3.8"/>
<line x1="384.9" y1="261.3" x2="588.9" y2="287.9" stroke="#2a2a2a" stroke-width="1.8" stroke-dasharray="9.8 3.8"/>
<text class="b" x="296.4" y="281.2" font-size="17.5" text-anchor="middle">Procedure</text>
<rect x="35.9" y="288.3" width="554.1" height="200.7" fill="#fff" stroke="#222" stroke-width="1.5"/>

<g stroke="#444" stroke-width="1.0">
<rect x="57.4" y="311" width="76" height="40" fill="#F2F2F2"/>
<rect x="218.4" y="311" width="75.2" height="40" fill="#F2F2F2"/>
<rect x="383" y="311" width="63" height="40" fill="#F2F2F2"/>
</g>
<g stroke="#111" stroke-width="1.6" fill="#fff">
<rect x="133.4" y="299.4" width="85" height="51.4"/>
<rect x="293.6" y="299.4" width="89.4" height="51.4"/>
<rect x="446" y="299.4" width="86.4" height="51.4"/>
</g>
<line x1="40" y1="351" x2="572" y2="351" stroke="#000" stroke-width="2.2"/>
<polygon points="571,347.3 579,351 571,354.7" fill="#000"/>
<g font-size="14" class="b" text-anchor="middle">
<text x="95.4" y="329" class="b">Rest</text><text x="95.4" y="345" class="b">2min</text>
<text x="255.8" y="329" class="b">rest</text><text x="255.8" y="343" font-size="12" class="b">30s</text>
<text x="414.2" y="329" class="b">rest</text><text x="414.2" y="343" font-size="12" class="b">30s</text>
</g>
<g font-size="20" text-anchor="middle">
<text x="175.9" y="320.9">Round</text><text x="175.9" y="344.9">1</text>
<text x="338.3" y="320.9">Round</text><text x="338.3" y="344.9">2</text>
<text x="489.2" y="320.9">Round</text><text x="489.2" y="344.9">3</text>
</g>
<!-- connector lines -->
<g stroke="#333" stroke-width="0.9">
<line x1="133.4" y1="351" x2="102" y2="388"/><line x1="216.4" y1="351" x2="205.4" y2="388"/>
<line x1="290" y1="351" x2="255.6" y2="388"/><line x1="383" y1="351" x2="392.4" y2="388"/>
<line x1="444.4" y1="351" x2="431" y2="388"/><line x1="535" y1="351" x2="569" y2="388"/>
</g>
<!-- trials -->
<g stroke="#444" stroke-width="1.0">
<rect x="68" y="421" width="75.4" height="52" fill="#F2F2F2"/><rect x="143.4" y="421" width="62.6" height="52" fill="#F2F2F2"/>
<rect x="254.4" y="421" width="76" height="52" fill="#F2F2F2"/><rect x="330.4" y="421" width="62" height="52" fill="#F2F2F2"/>
<rect x="431" y="421" width="76" height="52" fill="#F2F2F2"/><rect x="507" y="421" width="62.4" height="52" fill="#F2F2F2"/>
</g>
<g stroke="#111" stroke-width="1.6" fill="#fff">
<rect x="68" y="387.8" width="138" height="33.2"/>
<rect x="254.4" y="387.8" width="138" height="33.2"/>
<rect x="431" y="387.8" width="138.4" height="33.2"/>
</g>
<g font-size="20" text-anchor="middle">
<text x="137" y="416">Trial(1~30)</text>
<text x="323.4" y="416">Trial(31~60)</text>
<text x="500.2" y="416">Trial(61~90)</text>
</g>
<g font-size="14" class="b" text-anchor="middle">
<text x="106" y="438">decision-</text><text x="106" y="455">making</text><text x="106" y="469" font-size="11">3s</text>
<text x="175" y="438">Count</text><text x="175" y="455">scores</text><text x="175" y="469" font-size="11">3s</text>
<text x="292.4" y="438">decision-</text><text x="292.4" y="455">making</text><text x="292.4" y="469" font-size="11">2s</text>
<text x="361.4" y="438">Count</text><text x="361.4" y="455">scores</text><text x="361.4" y="469" font-size="11">3s</text>
<text x="469" y="438">decision-</text><text x="469" y="455">making</text><text x="469" y="469" font-size="11">1s</text>
<text x="538" y="438">Count</text><text x="538" y="455">scores</text><text x="538" y="469" font-size="11">3s</text>
</g>
<g stroke="#000" stroke-width="2.2">
<line x1="53.6" y1="473.2" x2="213" y2="473.2"/>
<line x1="241" y1="473.2" x2="398" y2="473.2"/>
<line x1="421" y1="473.2" x2="572" y2="473.2"/>
</g>
<g fill="#000">
<polygon points="212,469.5 220,473.2 212,476.9"/>
<polygon points="397.6,469.5 405.6,473.2 397.6,476.9"/>
<polygon points="571,469.5 579,473.2 571,476.9"/>
</g>
</svg>
<svg class="capsvg" width="1132" height="550" viewBox="0 0 1132 550"><g transform="translate(0,537.8) scale(1,1.05)" font-size="26"><text x="41.4" y="0">Fig.</text><text x="92.7" y="0">4:</text><text x="123" y="0">The</text><text x="173.2" y="0" textLength="138.3" lengthAdjust="spacingAndGlyphs">experimental</text><text x="322.5" y="0" textLength="101.6" lengthAdjust="spacingAndGlyphs">workflow</text><text x="433.9" y="0">used</text><text x="491.1" y="0">to</text><text x="522.2" y="0">validate</text><text x="615.3" y="0">the</text><text x="656.4" y="0" textLength="138.4" lengthAdjust="spacingAndGlyphs">effectiveness</text><text x="804.8" y="0">of</text><text x="837.4" y="0">the</text><text x="878.9" y="0" textLength="97" lengthAdjust="spacingAndGlyphs">proposed</text><text x="986.5" y="0" textLength="107.3" lengthAdjust="spacingAndGlyphs">paradigm.</text></g>
</svg>
</body></html>
